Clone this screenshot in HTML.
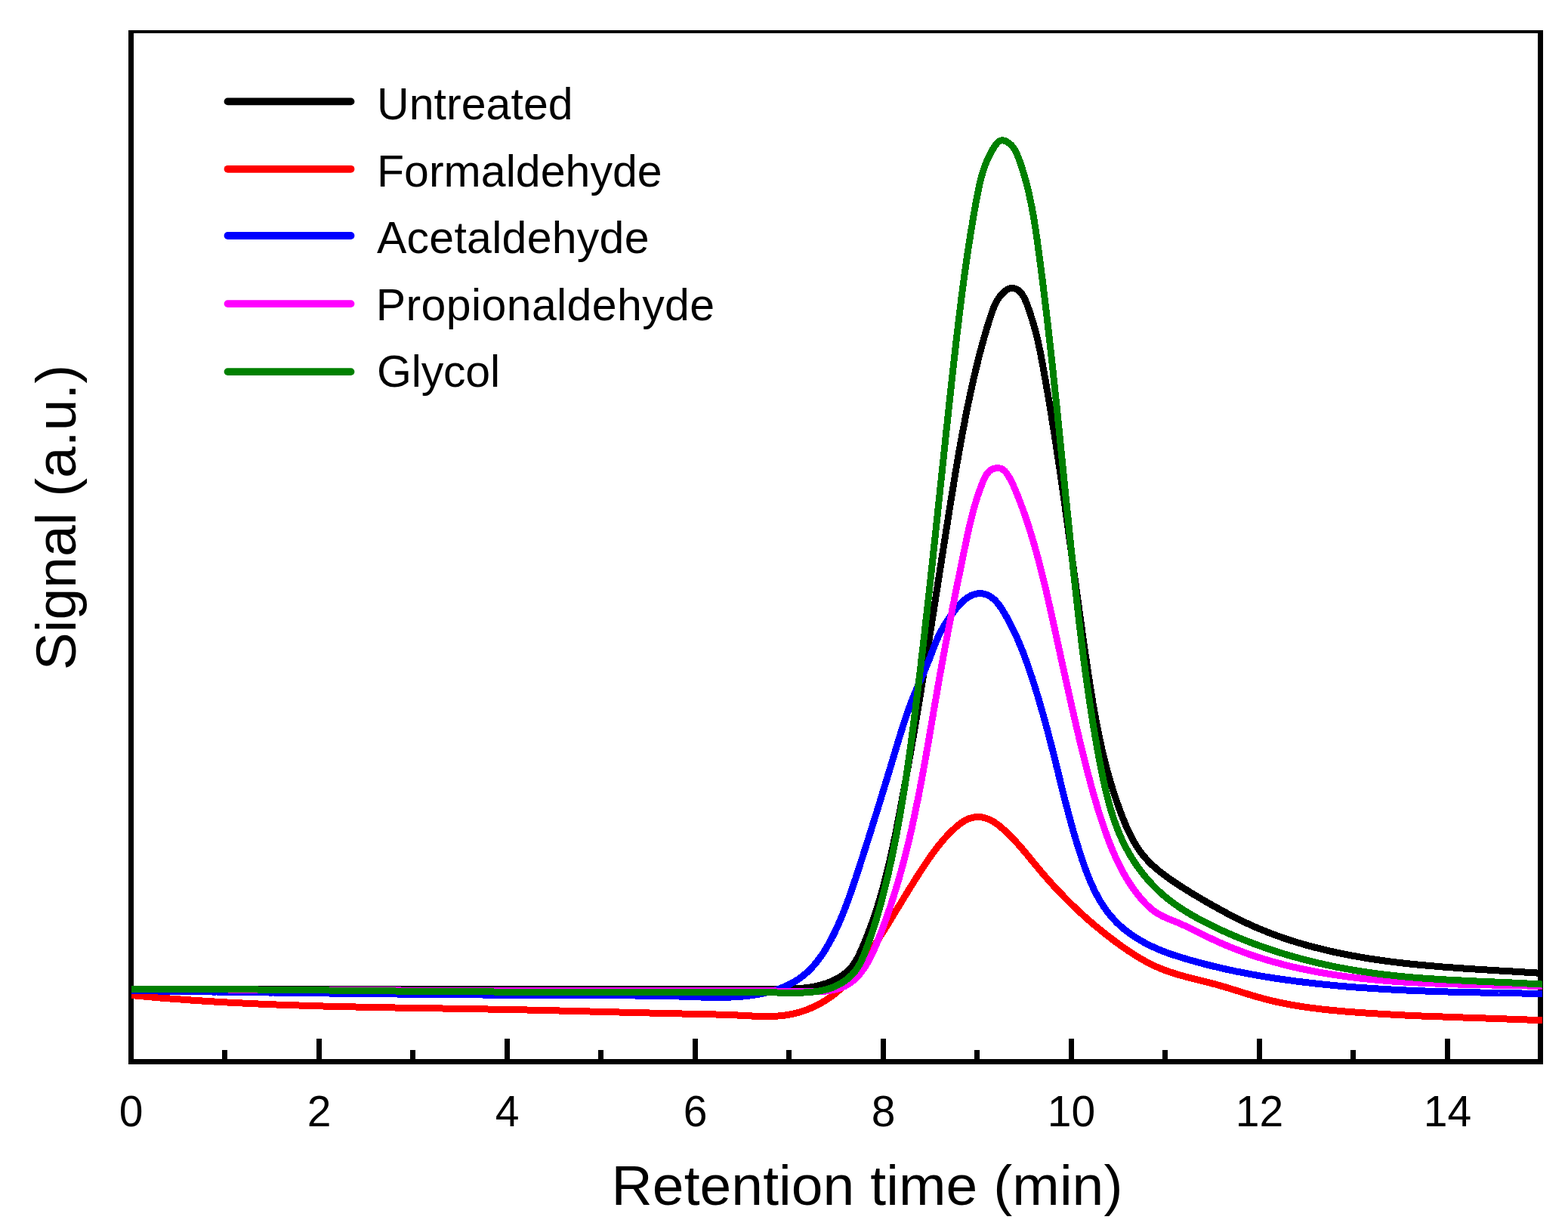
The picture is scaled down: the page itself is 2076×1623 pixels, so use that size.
<!DOCTYPE html>
<html><head><meta charset="utf-8"><title>Retention time chart</title>
<style>html,body{margin:0;padding:0;background:#fff;width:2076px;height:1623px;overflow:hidden;}svg{display:block;}</style>
</head><body>
<svg width="2076" height="1623" viewBox="0 0 2076 1623">
<rect width="2076" height="1623" fill="#fff"/>
<g fill="#000">
<rect x="170" y="40" width="7" height="1369"/>
<rect x="2036" y="40" width="7" height="1369"/>
<rect x="170" y="40" width="1873" height="4"/>
<rect x="170" y="1402" width="1873" height="7"/>
<rect x="294" y="1390" width="7" height="13"/>
<rect x="419" y="1375" width="7" height="28"/>
<rect x="543" y="1390" width="7" height="13"/>
<rect x="668" y="1375" width="7" height="28"/>
<rect x="792" y="1390" width="7" height="13"/>
<rect x="917" y="1375" width="7" height="28"/>
<rect x="1041" y="1390" width="7" height="13"/>
<rect x="1166" y="1375" width="7" height="28"/>
<rect x="1290" y="1390" width="7" height="13"/>
<rect x="1415" y="1375" width="7" height="28"/>
<rect x="1539" y="1390" width="7" height="13"/>
<rect x="1664" y="1375" width="7" height="28"/>
<rect x="1788" y="1390" width="7" height="13"/>
<rect x="1913" y="1375" width="7" height="28"/>
</g>
<g font-family='"Liberation Sans", Arial, sans-serif' font-size="57" text-anchor="middle" fill="#000">
<text x="173.5" y="1490.5">0</text>
<text x="422.5" y="1490.5">2</text>
<text x="671.5" y="1490.5">4</text>
<text x="920.5" y="1490.5">6</text>
<text x="1169.5" y="1490.5">8</text>
<text x="1418.5" y="1490.5">10</text>
<text x="1667.5" y="1490.5">12</text>
<text x="1916.5" y="1490.5">14</text>
</g>
<text x="809.6" y="1595" textLength="676.8" lengthAdjust="spacing" font-family='"Liberation Sans", Arial, sans-serif' font-size="75" fill="#000">Retention time (min)</text>
<text transform="translate(100,685) rotate(-90)" text-anchor="middle" font-family='"Liberation Sans", Arial, sans-serif' font-size="75" fill="#000">Signal (a.u.)</text>
<g fill="none" stroke-width="9" stroke-linejoin="round" stroke-linecap="butt" shape-rendering="crispEdges">
<path stroke="#000000" d="M174.0 1309.5L176.5 1309.5 179.0 1309.5 181.5 1309.5 184.0 1309.5 186.5 1309.5 189.0 1309.5 191.5 1309.5 194.0 1309.5 196.5 1309.5 199.0 1309.5 201.5 1309.5 204.0 1309.5 206.5 1309.5 209.0 1309.5 211.5 1309.5 214.0 1309.5 216.5 1309.5 219.0 1309.5 221.5 1309.5 224.0 1309.5 226.5 1309.5 229.0 1309.5 231.5 1309.5 234.0 1309.5 236.5 1309.5 239.0 1309.5 241.5 1309.5 243.9 1309.5 246.4 1309.5 248.9 1309.5 251.4 1309.5 253.9 1309.5 256.4 1309.5 258.9 1309.5 261.4 1309.5 263.9 1309.5 266.4 1309.5 268.9 1309.5 271.4 1309.5 273.9 1309.5 276.4 1309.5 278.9 1309.5 281.4 1309.5 283.9 1309.5 286.4 1309.5 288.9 1309.5 291.4 1309.5 293.9 1309.5 296.4 1309.5 298.9 1309.5 301.4 1309.5 303.9 1309.5 306.4 1309.5 308.9 1309.5 311.4 1309.5 313.9 1309.5 316.4 1309.5 318.9 1309.5 321.4 1309.5 323.9 1309.5 326.4 1309.5 328.9 1309.5 331.4 1309.5 333.9 1309.5 336.4 1309.5 338.9 1309.5 341.4 1309.5 343.9 1309.5 346.4 1309.5 348.9 1309.5 351.4 1309.5 353.9 1309.5 356.4 1309.5 358.9 1309.5 361.4 1309.5 363.9 1309.5 366.4 1309.5 368.9 1309.5 371.4 1309.5 373.9 1309.5 376.4 1309.5 378.9 1309.5 381.4 1309.5 383.9 1309.5 386.4 1309.5 388.8 1309.5 391.3 1309.5 393.8 1309.5 396.3 1309.5 398.8 1309.5 401.3 1309.5 403.8 1309.5 406.3 1309.5 408.8 1309.5 411.3 1309.5 413.8 1309.5 416.3 1309.5 418.8 1309.5 421.3 1309.5 423.8 1309.5 426.3 1309.5 428.8 1309.5 431.3 1309.5 433.8 1309.5 436.3 1309.5 438.8 1309.5 441.3 1309.5 443.8 1309.5 446.3 1309.5 448.8 1309.5 451.3 1309.5 453.8 1309.5 456.3 1309.5 458.8 1309.5 461.3 1309.5 463.8 1309.5 466.3 1309.5 468.8 1309.5 471.3 1309.5 473.8 1309.5 476.3 1309.5 478.8 1309.5 481.3 1309.5 483.8 1309.5 486.3 1309.5 488.8 1309.5 491.3 1309.5 493.8 1309.5 496.3 1309.5 498.8 1309.5 501.3 1309.5 503.8 1309.5 506.3 1309.5 508.8 1309.5 511.3 1309.5 513.8 1309.5 516.3 1309.5 518.8 1309.5 521.3 1309.5 523.8 1309.5 526.3 1309.5 528.8 1309.5 531.3 1309.5 533.8 1309.5 536.3 1309.5 538.8 1309.5 541.3 1309.5 543.8 1309.5 546.3 1309.5 548.8 1309.5 551.2 1309.5 553.7 1309.5 556.2 1309.5 558.7 1309.5 561.2 1309.5 563.7 1309.5 566.2 1309.5 568.7 1309.5 571.2 1309.5 573.7 1309.5 576.2 1309.5 578.7 1309.5 581.2 1309.5 583.7 1309.5 586.2 1309.5 588.7 1309.5 591.2 1309.5 593.7 1309.5 596.2 1309.5 598.7 1309.5 601.2 1309.5 603.7 1309.5 606.2 1309.5 608.7 1309.5 611.2 1309.5 613.7 1309.5 616.2 1309.5 618.7 1309.5 621.2 1309.5 623.7 1309.5 626.2 1309.5 628.7 1309.5 631.2 1309.5 633.7 1309.5 636.2 1309.5 638.7 1309.5 641.2 1309.5 643.7 1309.5 646.2 1309.5 648.7 1309.5 651.2 1309.5 653.7 1309.5 656.2 1309.5 658.7 1309.5 661.2 1309.5 663.7 1309.5 666.2 1309.5 668.7 1309.5 671.2 1309.5 673.7 1309.5 676.2 1309.5 678.7 1309.5 681.2 1309.5 683.7 1309.5 686.2 1309.5 688.7 1309.5 691.2 1309.5 693.7 1309.5 696.2 1309.5 698.7 1309.5 701.2 1309.5 703.6 1309.5 706.1 1309.5 708.6 1309.5 711.1 1309.5 713.6 1309.5 716.1 1309.5 718.6 1309.5 721.1 1309.5 723.6 1309.5 726.1 1309.5 728.6 1309.5 731.1 1309.5 733.6 1309.5 736.1 1309.5 738.6 1309.5 741.1 1309.5 743.6 1309.5 746.1 1309.5 748.6 1309.5 751.1 1309.5 753.6 1309.5 756.1 1309.5 758.6 1309.5 761.1 1309.5 763.6 1309.5 766.1 1309.5 768.6 1309.5 771.1 1309.5 773.6 1309.5 776.1 1309.5 778.6 1309.5 781.1 1309.5 783.6 1309.5 786.1 1309.5 788.6 1309.5 791.1 1309.5 793.6 1309.5 796.1 1309.5 798.6 1309.5 801.1 1309.5 803.6 1309.5 806.1 1309.5 808.6 1309.5 811.1 1309.5 813.6 1309.5 816.1 1309.5 818.6 1309.5 821.1 1309.5 823.6 1309.5 826.1 1309.5 828.6 1309.5 831.1 1309.5 833.6 1309.5 836.0 1309.5 838.5 1309.5 841.0 1309.5 843.5 1309.5 846.0 1309.5 848.5 1309.5 851.0 1309.5 853.5 1309.5 856.0 1309.5 858.5 1309.5 861.0 1309.5 863.5 1309.5 866.0 1309.5 868.5 1309.5 871.0 1309.5 873.5 1309.5 876.0 1309.5 878.5 1309.5 881.0 1309.5 883.5 1309.5 886.0 1309.5 888.5 1309.5 891.0 1309.5 893.5 1309.5 896.0 1309.5 898.5 1309.5 901.0 1309.5 903.5 1309.5 906.0 1309.5 908.5 1309.5 911.0 1309.5 913.5 1309.5 916.0 1309.5 918.5 1309.5 921.0 1309.5 923.5 1309.5 926.0 1309.5 928.5 1309.5 931.0 1309.5 933.5 1309.5 936.0 1309.5 938.5 1309.5 941.0 1309.5 943.5 1309.6 946.0 1309.6 948.4 1309.6 950.9 1309.6 953.4 1309.6 955.9 1309.6 958.4 1309.6 960.9 1309.6 963.4 1309.6 965.9 1309.6 968.4 1309.6 970.9 1309.6 973.4 1309.6 975.9 1309.6 978.4 1309.6 980.9 1309.5 983.4 1309.5 985.9 1309.5 988.4 1309.5 990.9 1309.5 993.4 1309.5 995.9 1309.5 998.4 1309.5 1000.9 1309.5 1003.4 1309.5 1005.9 1309.5 1008.4 1309.5 1010.9 1309.5 1013.5 1309.5 1016.0 1309.5 1018.5 1309.5 1021.0 1309.5 1023.5 1309.5 1026.0 1309.4 1028.5 1309.4 1031.0 1309.4 1033.5 1309.4 1036.0 1309.4 1038.5 1309.3 1041.0 1309.3 1043.5 1309.3 1046.0 1309.2 1048.5 1309.1 1051.0 1309.0 1053.5 1308.9 1056.0 1308.7 1058.4 1308.6 1060.9 1308.4 1063.4 1308.1 1065.9 1307.9 1068.3 1307.6 1070.8 1307.2 1073.2 1306.9 1075.6 1306.5 1078.1 1306.0 1080.5 1305.5 1082.9 1305.0 1085.3 1304.4 1087.7 1303.7 1090.1 1303.0 1092.5 1302.3 1094.8 1301.5 1097.2 1300.6 1099.5 1299.7 1101.8 1298.7 1104.1 1297.6 1106.4 1296.5 1108.6 1295.3 1110.8 1294.0 1112.9 1292.7 1115.0 1291.3 1117.1 1289.9 1119.1 1288.4 1121.0 1286.8 1122.8 1285.1 1124.6 1283.4 1126.3 1281.6 1127.9 1279.7 1129.4 1277.8 1130.8 1275.7 1132.1 1273.7 1133.4 1271.6 1134.6 1269.4 1135.8 1267.2 1136.9 1265.0 1138.0 1262.7 1139.0 1260.4 1140.0 1258.1 1141.1 1255.8 1142.1 1253.5 1143.0 1251.2 1144.0 1248.9 1145.0 1246.6 1145.9 1244.3 1146.9 1242.0 1147.8 1239.6 1148.7 1237.3 1149.6 1235.0 1150.5 1232.6 1151.4 1230.3 1152.2 1228.0 1153.1 1225.6 1153.9 1223.3 1154.8 1220.9 1155.6 1218.6 1156.4 1216.2 1157.2 1213.8 1158.0 1211.5 1158.8 1209.1 1159.6 1206.7 1160.3 1204.4 1161.1 1202.0 1161.9 1199.6 1162.6 1197.2 1163.3 1194.9 1164.0 1192.5 1164.8 1190.1 1165.5 1187.7 1166.2 1185.3 1166.8 1182.9 1167.5 1180.5 1168.2 1178.1 1168.9 1175.7 1169.5 1173.3 1170.2 1170.9 1170.8 1168.5 1171.4 1166.1 1172.1 1163.6 1172.7 1161.2 1173.3 1158.8 1173.9 1156.4 1174.5 1154.0 1175.1 1151.5 1175.7 1149.1 1176.3 1146.7 1176.9 1144.2 1177.4 1141.8 1178.0 1139.4 1178.6 1136.9 1179.1 1134.5 1179.7 1132.1 1180.2 1129.6 1180.7 1127.2 1181.3 1124.8 1181.8 1122.3 1182.3 1119.9 1182.8 1117.4 1183.4 1115.0 1183.9 1112.5 1184.4 1110.1 1184.9 1107.6 1185.4 1105.2 1185.9 1102.7 1186.4 1100.3 1186.9 1097.8 1187.4 1095.4 1187.8 1092.9 1188.3 1090.5 1188.8 1088.0 1189.3 1085.5 1189.7 1083.1 1190.2 1080.6 1190.7 1078.2 1191.2 1075.7 1191.6 1073.3 1192.1 1070.8 1192.6 1068.3 1193.0 1065.9 1193.5 1063.4 1193.9 1061.0 1194.4 1058.5 1194.8 1056.0 1195.3 1053.6 1195.8 1051.1 1196.2 1048.7 1196.7 1046.2 1197.1 1043.8 1197.6 1041.3 1198.0 1038.8 1198.4 1036.4 1198.9 1033.9 1199.3 1031.5 1199.8 1029.0 1200.2 1026.5 1200.7 1024.1 1201.1 1021.6 1201.5 1019.2 1202.0 1016.7 1202.4 1014.2 1202.8 1011.8 1203.3 1009.3 1203.7 1006.9 1204.1 1004.4 1204.6 1001.9 1205.0 999.5 1205.4 997.0 1205.9 994.5 1206.3 992.1 1206.7 989.6 1207.1 987.2 1207.6 984.7 1208.0 982.2 1208.4 979.8 1208.8 977.3 1209.3 974.9 1209.7 972.4 1210.1 969.9 1210.5 967.5 1210.9 965.0 1211.3 962.5 1211.8 960.1 1212.2 957.6 1212.6 955.2 1213.0 952.7 1213.4 950.2 1213.8 947.8 1214.2 945.3 1214.6 942.8 1215.1 940.4 1215.5 937.9 1215.9 935.5 1216.3 933.0 1216.7 930.5 1217.1 928.1 1217.5 925.6 1217.9 923.1 1218.3 920.7 1218.7 918.2 1219.1 915.8 1219.5 913.3 1219.9 910.8 1220.3 908.4 1220.7 905.9 1221.1 903.4 1221.5 901.0 1221.9 898.5 1222.3 896.0 1222.7 893.6 1223.1 891.1 1223.5 888.6 1223.9 886.2 1224.3 883.7 1224.7 881.3 1225.1 878.8 1225.5 876.3 1225.9 873.9 1226.3 871.4 1226.6 868.9 1227.0 866.5 1227.4 864.0 1227.8 861.5 1228.2 859.1 1228.6 856.6 1229.0 854.1 1229.4 851.7 1229.8 849.2 1230.2 846.7 1230.5 844.3 1230.9 841.8 1231.3 839.3 1231.7 836.9 1232.1 834.4 1232.5 831.9 1232.9 829.5 1233.3 827.0 1233.6 824.5 1234.0 822.1 1234.4 819.6 1234.8 817.1 1235.2 814.7 1235.6 812.2 1236.0 809.7 1236.3 807.3 1236.7 804.8 1237.1 802.3 1237.5 799.9 1237.9 797.4 1238.3 794.9 1238.7 792.5 1239.0 790.0 1239.4 787.5 1239.8 785.1 1240.2 782.6 1240.6 780.1 1241.0 777.7 1241.3 775.2 1241.7 772.7 1242.1 770.3 1242.5 767.8 1242.9 765.3 1243.3 762.9 1243.7 760.4 1244.0 757.9 1244.4 755.4 1244.8 753.0 1245.2 750.5 1245.6 748.0 1246.0 745.6 1246.3 743.1 1246.7 740.6 1247.1 738.2 1247.5 735.7 1247.9 733.2 1248.3 730.8 1248.7 728.3 1249.0 725.8 1249.4 723.4 1249.8 720.9 1250.2 718.4 1250.6 715.9 1251.0 713.5 1251.4 711.0 1251.8 708.5 1252.1 706.1 1252.5 703.6 1252.9 701.1 1253.3 698.7 1253.7 696.2 1254.1 693.7 1254.5 691.2 1254.9 688.8 1255.3 686.3 1255.7 683.8 1256.0 681.4 1256.4 678.9 1256.8 676.4 1257.2 674.0 1257.6 671.5 1258.0 669.0 1258.4 666.5 1258.8 664.1 1259.2 661.6 1259.6 659.1 1260.0 656.7 1260.4 654.2 1260.8 651.7 1261.2 649.2 1261.6 646.8 1262.0 644.3 1262.4 641.8 1262.8 639.4 1263.2 636.9 1263.6 634.4 1264.0 632.0 1264.4 629.5 1264.8 627.0 1265.3 624.6 1265.7 622.1 1266.1 619.6 1266.5 617.2 1266.9 614.7 1267.3 612.2 1267.8 609.8 1268.2 607.3 1268.6 604.8 1269.1 602.4 1269.5 599.9 1269.9 597.4 1270.4 595.0 1270.8 592.5 1271.2 590.1 1271.7 587.6 1272.1 585.1 1272.6 582.7 1273.0 580.2 1273.5 577.8 1273.9 575.3 1274.4 572.8 1274.8 570.4 1275.3 567.9 1275.8 565.5 1276.2 563.0 1276.7 560.6 1277.2 558.1 1277.6 555.7 1278.1 553.2 1278.6 550.8 1279.1 548.3 1279.6 545.9 1280.1 543.4 1280.6 541.0 1281.1 538.5 1281.6 536.1 1282.1 533.6 1282.6 531.2 1283.1 528.8 1283.6 526.3 1284.1 523.9 1284.7 521.4 1285.2 519.0 1285.7 516.6 1286.2 514.1 1286.8 511.7 1287.3 509.3 1287.9 506.8 1288.4 504.4 1289.0 502.0 1289.5 499.6 1290.1 497.1 1290.7 494.7 1291.2 492.3 1291.8 489.9 1292.4 487.4 1293.0 485.0 1293.6 482.6 1294.2 480.2 1294.8 477.8 1295.4 475.4 1296.0 473.0 1296.6 470.5 1297.2 468.1 1297.8 465.7 1298.5 463.3 1299.1 460.9 1299.8 458.5 1300.4 456.1 1301.1 453.7 1301.7 451.3 1302.4 448.9 1303.1 446.5 1303.8 444.1 1304.5 441.7 1305.2 439.3 1305.9 436.9 1306.6 434.5 1307.3 432.1 1308.1 429.7 1308.8 427.2 1309.6 424.8 1310.3 422.4 1311.1 420.0 1311.9 417.6 1312.7 415.2 1313.6 412.8 1314.4 410.4 1315.3 408.1 1316.3 405.7 1317.3 403.4 1318.4 401.2 1319.6 399.0 1320.8 396.8 1322.2 394.7 1323.6 392.7 1325.2 390.7 1326.9 388.8 1328.7 387.1 1330.6 385.4 1332.7 383.9 1334.8 382.7 1337.0 381.9 1339.3 381.4 1341.6 381.5 1343.8 382.0 1345.9 382.9 1347.9 384.1 1349.7 385.5 1351.4 387.2 1352.9 389.1 1354.3 391.2 1355.6 393.5 1356.8 395.8 1357.9 398.3 1358.9 400.8 1359.9 403.3 1360.8 405.9 1361.7 408.4 1362.6 410.9 1363.4 413.4 1364.2 415.8 1365.0 418.2 1365.7 420.6 1366.5 422.9 1367.2 425.3 1367.9 427.6 1368.6 429.9 1369.3 432.2 1369.9 434.5 1370.6 436.8 1371.2 439.1 1371.8 441.4 1372.4 443.8 1372.9 446.1 1373.5 448.5 1374.0 450.9 1374.6 453.3 1375.1 455.7 1375.6 458.1 1376.1 460.6 1376.6 463.0 1377.1 465.4 1377.6 467.9 1378.1 470.3 1378.6 472.8 1379.0 475.3 1379.5 477.7 1379.9 480.2 1380.4 482.7 1380.9 485.2 1381.3 487.6 1381.8 490.1 1382.2 492.6 1382.6 495.0 1383.1 497.5 1383.5 500.0 1384.0 502.4 1384.4 504.9 1384.8 507.4 1385.3 509.9 1385.7 512.3 1386.1 514.8 1386.6 517.3 1387.0 519.7 1387.4 522.2 1387.8 524.7 1388.2 527.2 1388.7 529.6 1389.1 532.1 1389.5 534.6 1389.9 537.0 1390.3 539.5 1390.7 542.0 1391.1 544.5 1391.5 546.9 1391.9 549.4 1392.3 551.9 1392.7 554.3 1393.1 556.8 1393.5 559.3 1393.9 561.8 1394.3 564.2 1394.7 566.7 1395.1 569.2 1395.5 571.6 1395.9 574.1 1396.3 576.6 1396.6 579.1 1397.0 581.5 1397.4 584.0 1397.8 586.5 1398.2 588.9 1398.5 591.4 1398.9 593.9 1399.3 596.3 1399.7 598.8 1400.0 601.3 1400.4 603.8 1400.8 606.2 1401.2 608.7 1401.5 611.2 1401.9 613.6 1402.3 616.1 1402.6 618.6 1403.0 621.1 1403.3 623.5 1403.7 626.0 1404.1 628.5 1404.4 630.9 1404.8 633.4 1405.1 635.9 1405.5 638.4 1405.9 640.8 1406.2 643.3 1406.6 645.8 1406.9 648.2 1407.3 650.7 1407.6 653.2 1408.0 655.7 1408.3 658.1 1408.7 660.6 1409.0 663.1 1409.4 665.5 1409.7 668.0 1410.1 670.5 1410.4 673.0 1410.7 675.4 1411.1 677.9 1411.4 680.4 1411.8 682.8 1412.1 685.3 1412.5 687.8 1412.8 690.3 1413.1 692.7 1413.5 695.2 1413.8 697.7 1414.2 700.1 1414.5 702.6 1414.8 705.1 1415.2 707.6 1415.5 710.0 1415.8 712.5 1416.2 715.0 1416.5 717.4 1416.9 719.9 1417.2 722.4 1417.5 724.9 1417.9 727.3 1418.2 729.8 1418.5 732.3 1418.9 734.8 1419.2 737.2 1419.5 739.7 1419.9 742.2 1420.2 744.6 1420.6 747.1 1420.9 749.6 1421.2 752.1 1421.6 754.5 1421.9 757.0 1422.2 759.5 1422.6 761.9 1422.9 764.4 1423.2 766.9 1423.6 769.4 1423.9 771.8 1424.2 774.3 1424.6 776.8 1424.9 779.3 1425.3 781.7 1425.6 784.2 1425.9 786.7 1426.3 789.2 1426.6 791.6 1426.9 794.1 1427.3 796.6 1427.6 799.0 1428.0 801.5 1428.3 804.0 1428.6 806.5 1429.0 808.9 1429.3 811.4 1429.7 813.9 1430.0 816.4 1430.3 818.8 1430.7 821.3 1431.0 823.8 1431.4 826.3 1431.7 828.7 1432.1 831.2 1432.4 833.7 1432.8 836.2 1433.1 838.6 1433.5 841.1 1433.8 843.6 1434.2 846.1 1434.5 848.5 1434.9 851.0 1435.2 853.5 1435.6 856.0 1435.9 858.4 1436.3 860.9 1436.6 863.4 1437.0 865.9 1437.4 868.3 1437.7 870.8 1438.1 873.3 1438.4 875.8 1438.8 878.2 1439.2 880.7 1439.5 883.2 1439.9 885.7 1440.3 888.1 1440.6 890.6 1441.0 893.1 1441.4 895.6 1441.8 898.0 1442.1 900.5 1442.5 903.0 1442.9 905.5 1443.3 907.9 1443.7 910.4 1444.1 912.9 1444.5 915.3 1444.9 917.8 1445.3 920.3 1445.7 922.8 1446.1 925.2 1446.5 927.7 1446.9 930.2 1447.3 932.6 1447.7 935.1 1448.2 937.6 1448.6 940.0 1449.0 942.5 1449.5 944.9 1449.9 947.4 1450.4 949.9 1450.8 952.3 1451.3 954.8 1451.8 957.2 1452.2 959.7 1452.7 962.1 1453.2 964.6 1453.7 967.0 1454.2 969.5 1454.7 971.9 1455.2 974.4 1455.7 976.8 1456.2 979.3 1456.7 981.7 1457.3 984.2 1457.8 986.6 1458.3 989.0 1458.9 991.5 1459.4 993.9 1460.0 996.3 1460.6 998.8 1461.2 1001.2 1461.8 1003.6 1462.3 1006.0 1463.0 1008.4 1463.6 1010.9 1464.2 1013.3 1464.8 1015.7 1465.5 1018.1 1466.1 1020.5 1466.8 1022.9 1467.4 1025.3 1468.1 1027.7 1468.8 1030.1 1469.5 1032.5 1470.2 1034.9 1470.9 1037.3 1471.6 1039.7 1472.3 1042.1 1473.1 1044.5 1473.8 1046.8 1474.6 1049.2 1475.3 1051.6 1476.1 1054.0 1476.9 1056.3 1477.7 1058.7 1478.5 1061.1 1479.3 1063.4 1480.2 1065.8 1481.0 1068.1 1481.9 1070.5 1482.7 1072.8 1483.6 1075.2 1484.5 1077.5 1485.4 1079.9 1486.3 1082.2 1487.2 1084.5 1488.2 1086.8 1489.1 1089.2 1490.1 1091.5 1491.1 1093.8 1492.1 1096.1 1493.1 1098.3 1494.2 1100.6 1495.3 1102.9 1496.4 1105.1 1497.5 1107.3 1498.6 1109.5 1499.8 1111.7 1501.0 1113.9 1502.3 1116.0 1503.5 1118.1 1504.8 1120.2 1506.2 1122.3 1507.6 1124.4 1509.0 1126.4 1510.4 1128.4 1511.9 1130.3 1513.5 1132.3 1515.0 1134.2 1516.7 1136.1 1518.3 1137.9 1520.0 1139.7 1521.8 1141.5 1523.5 1143.2 1525.3 1145.0 1527.2 1146.6 1529.1 1148.3 1531.0 1150.0 1532.9 1151.6 1534.8 1153.2 1536.8 1154.7 1538.8 1156.3 1540.8 1157.8 1542.8 1159.3 1544.9 1160.8 1546.9 1162.3 1549.0 1163.8 1551.1 1165.2 1553.2 1166.6 1555.3 1168.0 1557.4 1169.4 1559.5 1170.8 1561.6 1172.2 1563.7 1173.6 1565.8 1174.9 1567.9 1176.2 1570.0 1177.6 1572.1 1178.9 1574.2 1180.2 1576.3 1181.5 1578.4 1182.8 1580.5 1184.1 1582.6 1185.4 1584.8 1186.6 1586.9 1187.9 1589.0 1189.1 1591.2 1190.4 1593.3 1191.6 1595.4 1192.9 1597.6 1194.1 1599.7 1195.3 1601.9 1196.6 1604.0 1197.8 1606.2 1199.0 1608.4 1200.2 1610.5 1201.4 1612.7 1202.6 1614.9 1203.8 1617.1 1205.0 1619.3 1206.2 1621.5 1207.4 1623.7 1208.6 1625.9 1209.8 1628.2 1210.9 1630.4 1212.1 1632.6 1213.3 1634.9 1214.4 1637.1 1215.5 1639.4 1216.7 1641.6 1217.8 1643.9 1218.9 1646.1 1220.0 1648.4 1221.1 1650.7 1222.1 1652.9 1223.2 1655.2 1224.2 1657.5 1225.3 1659.8 1226.3 1662.1 1227.3 1664.4 1228.3 1666.6 1229.2 1669.0 1230.2 1671.3 1231.2 1673.6 1232.1 1675.9 1233.0 1678.2 1234.0 1680.5 1234.9 1682.8 1235.8 1685.2 1236.6 1687.5 1237.5 1689.8 1238.4 1692.2 1239.2 1694.5 1240.0 1696.9 1240.9 1699.2 1241.7 1701.6 1242.5 1703.9 1243.3 1706.3 1244.1 1708.6 1244.8 1711.0 1245.6 1713.4 1246.3 1715.7 1247.1 1718.1 1247.8 1720.5 1248.5 1722.9 1249.2 1725.3 1249.9 1727.7 1250.6 1730.0 1251.3 1732.4 1251.9 1734.8 1252.6 1737.2 1253.2 1739.6 1253.9 1742.0 1254.5 1744.5 1255.1 1746.9 1255.7 1749.3 1256.3 1751.7 1256.9 1754.1 1257.5 1756.5 1258.1 1759.0 1258.6 1761.4 1259.2 1763.8 1259.7 1766.2 1260.3 1768.7 1260.8 1771.1 1261.3 1773.5 1261.8 1776.0 1262.3 1778.4 1262.8 1780.9 1263.3 1783.3 1263.8 1785.8 1264.3 1788.2 1264.7 1790.7 1265.2 1793.1 1265.6 1795.6 1266.1 1798.0 1266.5 1800.5 1266.9 1803.0 1267.4 1805.4 1267.8 1807.9 1268.2 1810.3 1268.6 1812.8 1269.0 1815.3 1269.4 1817.8 1269.7 1820.2 1270.1 1822.7 1270.5 1825.2 1270.8 1827.7 1271.2 1830.1 1271.5 1832.6 1271.9 1835.1 1272.2 1837.6 1272.5 1840.1 1272.9 1842.6 1273.2 1845.0 1273.5 1847.5 1273.8 1850.0 1274.1 1852.5 1274.4 1855.0 1274.7 1857.5 1275.0 1860.0 1275.3 1862.5 1275.5 1865.0 1275.8 1867.5 1276.1 1870.0 1276.3 1872.5 1276.6 1875.0 1276.8 1877.5 1277.1 1880.0 1277.3 1882.5 1277.6 1885.0 1277.8 1887.5 1278.0 1890.0 1278.3 1892.5 1278.5 1895.0 1278.7 1897.5 1278.9 1900.0 1279.1 1902.5 1279.4 1905.0 1279.6 1907.5 1279.8 1910.0 1280.0 1912.5 1280.2 1915.0 1280.4 1917.5 1280.5 1920.0 1280.7 1922.5 1280.9 1925.0 1281.1 1927.5 1281.3 1930.0 1281.5 1932.5 1281.6 1935.0 1281.8 1937.5 1282.0 1940.0 1282.2 1942.5 1282.3 1945.0 1282.5 1947.5 1282.6 1950.0 1282.8 1952.5 1283.0 1955.0 1283.1 1957.5 1283.3 1960.0 1283.4 1962.5 1283.6 1965.0 1283.8 1967.5 1283.9 1970.0 1284.1 1972.5 1284.2 1975.0 1284.4 1977.5 1284.5 1980.0 1284.7 1982.5 1284.8 1985.0 1285.0 1987.5 1285.1 1990.0 1285.3 1992.4 1285.4 1994.9 1285.6 1997.4 1285.7 1999.9 1285.9 2002.4 1286.0 2004.9 1286.2 2007.4 1286.3 2009.8 1286.5 2012.3 1286.6 2014.8 1286.8 2017.3 1286.9 2019.7 1287.1 2022.2 1287.2 2024.7 1287.4 2027.1 1287.6 2029.6 1287.7 2032.1 1287.9 2034.5 1288.0 2037.0 1288.2 2039.5 1288.4 2041.9 1288.5"/>
<path stroke="#ff0000" d="M174.0 1317.5L176.5 1317.8 178.9 1318.0 181.4 1318.2 183.9 1318.5 186.4 1318.7 188.9 1318.9 191.4 1319.2 193.9 1319.4 196.4 1319.6 198.8 1319.8 201.3 1320.0 203.8 1320.3 206.3 1320.5 208.8 1320.7 211.3 1320.9 213.8 1321.1 216.3 1321.3 218.8 1321.5 221.2 1321.7 223.7 1321.9 226.2 1322.1 228.7 1322.3 231.2 1322.5 233.7 1322.7 236.2 1322.9 238.7 1323.0 241.2 1323.2 243.6 1323.4 246.1 1323.6 248.6 1323.8 251.1 1323.9 253.6 1324.1 256.1 1324.3 258.6 1324.4 261.1 1324.6 263.6 1324.8 266.1 1324.9 268.6 1325.1 271.0 1325.2 273.5 1325.4 276.0 1325.6 278.5 1325.7 281.0 1325.9 283.5 1326.0 286.0 1326.2 288.5 1326.3 291.0 1326.4 293.5 1326.6 296.0 1326.7 298.5 1326.9 301.0 1327.0 303.4 1327.1 305.9 1327.3 308.4 1327.4 310.9 1327.5 313.4 1327.7 315.9 1327.8 318.4 1327.9 320.9 1328.0 323.4 1328.1 325.9 1328.3 328.4 1328.4 330.9 1328.5 333.4 1328.6 335.9 1328.7 338.4 1328.8 340.8 1328.9 343.3 1329.1 345.8 1329.2 348.3 1329.3 350.8 1329.4 353.3 1329.5 355.8 1329.6 358.3 1329.7 360.8 1329.8 363.3 1329.9 365.8 1330.0 368.3 1330.1 370.8 1330.2 373.3 1330.3 375.8 1330.3 378.3 1330.4 380.8 1330.5 383.3 1330.6 385.8 1330.7 388.3 1330.8 390.7 1330.9 393.2 1330.9 395.7 1331.0 398.2 1331.1 400.7 1331.2 403.2 1331.3 405.7 1331.3 408.2 1331.4 410.7 1331.5 413.2 1331.6 415.7 1331.6 418.2 1331.7 420.7 1331.8 423.2 1331.8 425.7 1331.9 428.2 1332.0 430.7 1332.0 433.2 1332.1 435.7 1332.2 438.2 1332.2 440.7 1332.3 443.2 1332.4 445.7 1332.4 448.2 1332.5 450.7 1332.5 453.2 1332.6 455.7 1332.7 458.2 1332.7 460.7 1332.8 463.2 1332.8 465.6 1332.9 468.1 1332.9 470.6 1333.0 473.1 1333.0 475.6 1333.1 478.1 1333.1 480.6 1333.2 483.1 1333.2 485.6 1333.3 488.1 1333.3 490.6 1333.4 493.1 1333.4 495.6 1333.5 498.1 1333.5 500.6 1333.6 503.1 1333.6 505.6 1333.7 508.1 1333.7 510.6 1333.8 513.1 1333.8 515.6 1333.9 518.1 1333.9 520.6 1333.9 523.1 1334.0 525.6 1334.0 528.1 1334.1 530.6 1334.1 533.1 1334.2 535.6 1334.2 538.1 1334.2 540.6 1334.3 543.1 1334.3 545.6 1334.4 548.1 1334.4 550.6 1334.4 553.1 1334.5 555.6 1334.5 558.1 1334.6 560.6 1334.6 563.1 1334.6 565.6 1334.7 568.1 1334.7 570.6 1334.7 573.1 1334.8 575.6 1334.8 578.1 1334.9 580.6 1334.9 583.1 1334.9 585.6 1335.0 588.1 1335.0 590.6 1335.1 593.0 1335.1 595.5 1335.1 598.0 1335.2 600.5 1335.2 603.0 1335.2 605.5 1335.3 608.0 1335.3 610.5 1335.4 613.0 1335.4 615.5 1335.4 618.0 1335.5 620.5 1335.5 623.0 1335.6 625.5 1335.6 628.0 1335.7 630.5 1335.7 633.0 1335.7 635.5 1335.8 638.0 1335.8 640.5 1335.9 643.0 1335.9 645.5 1336.0 648.0 1336.0 650.5 1336.0 653.0 1336.1 655.5 1336.1 658.0 1336.2 660.5 1336.2 663.0 1336.3 665.5 1336.3 668.0 1336.4 670.5 1336.4 673.0 1336.5 675.5 1336.5 678.0 1336.6 680.5 1336.6 683.0 1336.7 685.5 1336.7 688.0 1336.8 690.5 1336.8 693.0 1336.9 695.5 1336.9 698.0 1337.0 700.5 1337.0 703.0 1337.1 705.5 1337.2 708.0 1337.2 710.5 1337.3 713.0 1337.3 715.4 1337.4 717.9 1337.4 720.4 1337.5 722.9 1337.6 725.4 1337.6 727.9 1337.7 730.4 1337.7 732.9 1337.8 735.4 1337.9 737.9 1337.9 740.4 1338.0 742.9 1338.0 745.4 1338.1 747.9 1338.2 750.4 1338.2 752.9 1338.3 755.4 1338.4 757.9 1338.4 760.4 1338.5 762.9 1338.5 765.4 1338.6 767.9 1338.7 770.4 1338.7 772.9 1338.8 775.4 1338.9 777.9 1338.9 780.4 1339.0 782.9 1339.1 785.4 1339.1 787.9 1339.2 790.4 1339.2 792.8 1339.3 795.3 1339.4 797.8 1339.4 800.3 1339.5 802.8 1339.6 805.3 1339.6 807.8 1339.7 810.3 1339.8 812.8 1339.8 815.3 1339.9 817.8 1339.9 820.3 1340.0 822.8 1340.1 825.3 1340.1 827.8 1340.2 830.3 1340.3 832.8 1340.3 835.3 1340.4 837.8 1340.5 840.3 1340.5 842.8 1340.6 845.3 1340.6 847.8 1340.7 850.3 1340.8 852.8 1340.8 855.2 1340.9 857.7 1340.9 860.2 1341.0 862.7 1341.1 865.2 1341.1 867.7 1341.2 870.2 1341.2 872.7 1341.3 875.2 1341.4 877.7 1341.4 880.2 1341.5 882.7 1341.5 885.2 1341.6 887.7 1341.7 890.2 1341.7 892.7 1341.8 895.2 1341.8 897.7 1341.9 900.2 1341.9 902.7 1342.0 905.2 1342.0 907.7 1342.1 910.1 1342.1 912.6 1342.2 915.1 1342.2 917.6 1342.3 920.1 1342.3 922.6 1342.4 925.1 1342.4 927.6 1342.5 930.1 1342.5 932.6 1342.6 935.1 1342.7 937.6 1342.7 940.1 1342.8 942.6 1342.8 945.1 1342.9 947.6 1343.0 950.1 1343.0 952.6 1343.1 955.1 1343.2 957.6 1343.3 960.1 1343.3 962.6 1343.4 965.1 1343.5 967.6 1343.6 970.1 1343.7 972.6 1343.8 975.1 1343.9 977.6 1344.1 980.1 1344.2 982.6 1344.3 985.2 1344.4 987.7 1344.6 990.2 1344.7 992.7 1344.8 995.2 1345.0 997.7 1345.1 1000.2 1345.2 1002.7 1345.3 1005.2 1345.4 1007.7 1345.5 1010.2 1345.5 1012.7 1345.5 1015.2 1345.6 1017.7 1345.5 1020.2 1345.5 1022.7 1345.4 1025.2 1345.3 1027.6 1345.2 1030.1 1345.0 1032.6 1344.8 1035.0 1344.6 1037.5 1344.3 1039.9 1344.0 1042.3 1343.6 1044.8 1343.2 1047.2 1342.7 1049.6 1342.2 1052.0 1341.7 1054.4 1341.1 1056.8 1340.5 1059.1 1339.8 1061.5 1339.0 1063.8 1338.3 1066.2 1337.4 1068.5 1336.6 1070.8 1335.7 1073.1 1334.7 1075.4 1333.7 1077.7 1332.7 1079.9 1331.6 1082.2 1330.5 1084.4 1329.3 1086.6 1328.1 1088.8 1326.9 1090.9 1325.6 1093.1 1324.3 1095.2 1322.9 1097.3 1321.5 1099.4 1320.0 1101.4 1318.6 1103.4 1317.0 1105.4 1315.5 1107.4 1313.9 1109.3 1312.3 1111.2 1310.7 1113.0 1309.0 1114.9 1307.3 1116.7 1305.6 1118.4 1303.8 1120.2 1302.0 1121.9 1300.2 1123.5 1298.4 1125.2 1296.6 1126.8 1294.7 1128.4 1292.8 1130.0 1290.9 1131.6 1288.9 1133.1 1287.0 1134.7 1285.0 1136.2 1283.1 1137.7 1281.1 1139.1 1279.1 1140.6 1277.0 1142.0 1275.0 1143.5 1273.0 1144.9 1270.9 1146.3 1268.9 1147.7 1266.8 1149.1 1264.7 1150.5 1262.7 1151.9 1260.6 1153.3 1258.5 1154.6 1256.4 1156.0 1254.3 1157.4 1252.2 1158.7 1250.1 1160.1 1248.0 1161.4 1245.9 1162.8 1243.8 1164.1 1241.7 1165.4 1239.6 1166.7 1237.5 1168.1 1235.4 1169.4 1233.3 1170.7 1231.2 1172.0 1229.0 1173.3 1226.9 1174.7 1224.8 1176.0 1222.7 1177.3 1220.5 1178.6 1218.4 1179.9 1216.3 1181.2 1214.2 1182.5 1212.0 1183.8 1209.9 1185.1 1207.8 1186.4 1205.6 1187.7 1203.5 1189.0 1201.4 1190.3 1199.2 1191.6 1197.1 1192.9 1195.0 1194.2 1192.8 1195.5 1190.7 1196.8 1188.6 1198.1 1186.4 1199.4 1184.3 1200.7 1182.2 1202.0 1180.1 1203.3 1177.9 1204.6 1175.8 1205.9 1173.7 1207.2 1171.6 1208.6 1169.5 1209.9 1167.3 1211.2 1165.2 1212.5 1163.1 1213.9 1161.0 1215.2 1158.9 1216.6 1156.8 1217.9 1154.7 1219.3 1152.6 1220.6 1150.5 1222.0 1148.4 1223.4 1146.4 1224.8 1144.3 1226.2 1142.2 1227.5 1140.1 1229.0 1138.1 1230.4 1136.0 1231.8 1134.0 1233.2 1131.9 1234.7 1129.9 1236.2 1127.9 1237.7 1125.9 1239.2 1123.9 1240.7 1121.9 1242.2 1120.0 1243.8 1118.0 1245.4 1116.1 1247.0 1114.2 1248.6 1112.3 1250.2 1110.4 1251.9 1108.6 1253.6 1106.7 1255.3 1104.9 1257.1 1103.1 1258.8 1101.4 1260.6 1099.6 1262.5 1097.9 1264.3 1096.2 1266.2 1094.5 1268.2 1092.9 1270.1 1091.3 1272.1 1089.8 1274.2 1088.3 1276.3 1087.0 1278.5 1085.8 1280.7 1084.7 1283.0 1083.7 1285.3 1083.0 1287.7 1082.3 1290.1 1081.9 1292.6 1081.6 1295.0 1081.5 1297.4 1081.6 1299.8 1081.9 1302.3 1082.4 1304.6 1083.0 1307.0 1083.8 1309.3 1084.7 1311.6 1085.8 1313.8 1086.9 1316.0 1088.2 1318.1 1089.6 1320.2 1091.1 1322.2 1092.6 1324.1 1094.2 1326.1 1095.8 1328.0 1097.5 1329.9 1099.2 1331.7 1100.8 1333.5 1102.6 1335.3 1104.3 1337.1 1106.1 1338.9 1107.8 1340.6 1109.6 1342.4 1111.4 1344.1 1113.3 1345.7 1115.1 1347.4 1116.9 1349.1 1118.8 1350.7 1120.7 1352.4 1122.6 1354.0 1124.5 1355.6 1126.4 1357.2 1128.3 1358.8 1130.2 1360.4 1132.1 1362.0 1134.0 1363.6 1136.0 1365.1 1137.9 1366.7 1139.8 1368.3 1141.7 1369.9 1143.7 1371.5 1145.6 1373.1 1147.5 1374.7 1149.4 1376.3 1151.4 1377.9 1153.3 1379.5 1155.2 1381.1 1157.1 1382.8 1159.0 1384.4 1160.8 1386.1 1162.7 1387.7 1164.6 1389.4 1166.5 1391.0 1168.3 1392.7 1170.2 1394.4 1172.0 1396.1 1173.9 1397.8 1175.7 1399.5 1177.5 1401.2 1179.3 1402.9 1181.1 1404.7 1183.0 1406.4 1184.7 1408.1 1186.5 1409.9 1188.3 1411.6 1190.1 1413.4 1191.9 1415.2 1193.6 1416.9 1195.4 1418.7 1197.1 1420.5 1198.9 1422.3 1200.6 1424.1 1202.3 1425.9 1204.0 1427.7 1205.7 1429.6 1207.4 1431.4 1209.1 1433.2 1210.8 1435.1 1212.5 1436.9 1214.1 1438.8 1215.8 1440.7 1217.4 1442.5 1219.1 1444.4 1220.7 1446.3 1222.3 1448.2 1223.9 1450.1 1225.6 1452.0 1227.2 1454.0 1228.7 1455.9 1230.3 1457.8 1231.9 1459.8 1233.5 1461.7 1235.0 1463.7 1236.6 1465.6 1238.1 1467.6 1239.6 1469.6 1241.2 1471.6 1242.7 1473.6 1244.2 1475.6 1245.7 1477.6 1247.2 1479.6 1248.7 1481.6 1250.1 1483.7 1251.6 1485.7 1253.1 1487.8 1254.5 1489.8 1255.9 1491.9 1257.4 1494.0 1258.8 1496.1 1260.2 1498.2 1261.5 1500.3 1262.9 1502.4 1264.2 1504.5 1265.6 1506.6 1266.9 1508.8 1268.2 1510.9 1269.4 1513.1 1270.7 1515.3 1271.9 1517.5 1273.1 1519.7 1274.2 1521.9 1275.4 1524.1 1276.5 1526.3 1277.6 1528.6 1278.7 1530.8 1279.7 1533.1 1280.7 1535.4 1281.7 1537.7 1282.6 1540.0 1283.5 1542.3 1284.4 1544.6 1285.2 1546.9 1286.1 1549.3 1286.9 1551.6 1287.6 1554.0 1288.4 1556.4 1289.1 1558.7 1289.9 1561.1 1290.6 1563.5 1291.3 1565.9 1291.9 1568.3 1292.6 1570.7 1293.2 1573.1 1293.9 1575.5 1294.5 1577.9 1295.1 1580.4 1295.7 1582.8 1296.3 1585.2 1297.0 1587.6 1297.6 1590.1 1298.2 1592.5 1298.8 1594.9 1299.4 1597.3 1300.0 1599.8 1300.6 1602.2 1301.2 1604.6 1301.9 1607.0 1302.5 1609.5 1303.1 1611.9 1303.8 1614.3 1304.5 1616.7 1305.2 1619.1 1305.9 1621.5 1306.6 1623.9 1307.3 1626.3 1308.0 1628.7 1308.7 1631.1 1309.5 1633.4 1310.2 1635.8 1310.9 1638.2 1311.7 1640.6 1312.4 1643.0 1313.2 1645.4 1313.9 1647.8 1314.7 1650.2 1315.4 1652.5 1316.1 1654.9 1316.9 1657.3 1317.6 1659.7 1318.3 1662.1 1319.0 1664.5 1319.7 1666.9 1320.4 1669.3 1321.0 1671.7 1321.7 1674.1 1322.4 1676.5 1323.0 1678.9 1323.6 1681.3 1324.2 1683.8 1324.8 1686.2 1325.4 1688.6 1325.9 1691.0 1326.5 1693.5 1327.0 1695.9 1327.5 1698.3 1328.0 1700.8 1328.5 1703.2 1329.0 1705.7 1329.5 1708.1 1329.9 1710.6 1330.4 1713.0 1330.8 1715.5 1331.2 1718.0 1331.6 1720.4 1332.0 1722.9 1332.4 1725.3 1332.8 1727.8 1333.1 1730.3 1333.5 1732.8 1333.8 1735.2 1334.2 1737.7 1334.5 1740.2 1334.8 1742.7 1335.1 1745.1 1335.4 1747.6 1335.7 1750.1 1336.0 1752.6 1336.3 1755.1 1336.6 1757.6 1336.8 1760.1 1337.1 1762.6 1337.3 1765.0 1337.6 1767.5 1337.8 1770.0 1338.0 1772.5 1338.3 1775.0 1338.5 1777.5 1338.7 1780.0 1338.9 1782.5 1339.1 1785.0 1339.3 1787.5 1339.5 1790.0 1339.7 1792.5 1339.9 1795.0 1340.1 1797.5 1340.3 1800.0 1340.4 1802.5 1340.6 1805.0 1340.8 1807.5 1341.0 1810.0 1341.1 1812.4 1341.3 1814.9 1341.5 1817.4 1341.6 1819.9 1341.8 1822.4 1341.9 1824.9 1342.1 1827.4 1342.2 1829.9 1342.4 1832.4 1342.5 1834.9 1342.7 1837.4 1342.8 1839.9 1342.9 1842.4 1343.1 1844.9 1343.2 1847.4 1343.3 1849.9 1343.5 1852.4 1343.6 1854.8 1343.7 1857.3 1343.8 1859.8 1344.0 1862.3 1344.1 1864.8 1344.2 1867.3 1344.3 1869.8 1344.4 1872.3 1344.5 1874.8 1344.6 1877.3 1344.7 1879.8 1344.9 1882.3 1345.0 1884.8 1345.1 1887.3 1345.2 1889.8 1345.3 1892.3 1345.4 1894.7 1345.5 1897.2 1345.6 1899.7 1345.7 1902.2 1345.8 1904.7 1345.9 1907.2 1345.9 1909.7 1346.0 1912.2 1346.1 1914.7 1346.2 1917.2 1346.3 1919.7 1346.4 1922.2 1346.5 1924.7 1346.6 1927.2 1346.7 1929.7 1346.8 1932.2 1346.8 1934.7 1346.9 1937.1 1347.0 1939.6 1347.1 1942.1 1347.2 1944.6 1347.3 1947.1 1347.4 1949.6 1347.4 1952.1 1347.5 1954.6 1347.6 1957.1 1347.7 1959.6 1347.8 1962.1 1347.9 1964.6 1347.9 1967.1 1348.0 1969.6 1348.1 1972.1 1348.2 1974.6 1348.3 1977.1 1348.4 1979.6 1348.5 1982.1 1348.5 1984.6 1348.6 1987.1 1348.7 1989.5 1348.8 1992.0 1348.9 1994.5 1349.0 1997.0 1349.1 1999.5 1349.2 2002.0 1349.3 2004.5 1349.4 2007.0 1349.5 2009.5 1349.5 2012.0 1349.6 2014.5 1349.7 2017.0 1349.8 2019.5 1349.9 2022.0 1350.0 2024.5 1350.1 2027.0 1350.3 2029.5 1350.4 2032.0 1350.5 2034.5 1350.6 2037.0 1350.7 2039.5 1350.8 2042.0 1350.9"/>
<path stroke="#0000ff" d="M174.0 1311.5L176.5 1311.5 179.0 1311.6 181.5 1311.6 184.0 1311.6 186.5 1311.7 189.0 1311.7 191.5 1311.7 194.0 1311.8 196.5 1311.8 199.0 1311.8 201.5 1311.9 204.0 1311.9 206.5 1311.9 209.0 1312.0 211.5 1312.0 214.0 1312.1 216.5 1312.1 219.0 1312.1 221.5 1312.2 224.0 1312.2 226.5 1312.2 229.0 1312.3 231.5 1312.3 234.0 1312.3 236.5 1312.4 239.0 1312.4 241.5 1312.4 244.0 1312.5 246.5 1312.5 249.0 1312.5 251.5 1312.6 254.0 1312.6 256.5 1312.6 259.0 1312.7 261.5 1312.7 264.0 1312.7 266.5 1312.8 269.0 1312.8 271.4 1312.8 273.9 1312.9 276.4 1312.9 278.9 1312.9 281.4 1313.0 283.9 1313.0 286.4 1313.0 288.9 1313.1 291.4 1313.1 293.9 1313.1 296.4 1313.2 298.9 1313.2 301.4 1313.2 303.9 1313.3 306.4 1313.3 308.9 1313.3 311.4 1313.4 313.9 1313.4 316.4 1313.4 318.9 1313.5 321.4 1313.5 323.9 1313.5 326.4 1313.6 328.9 1313.6 331.4 1313.6 333.9 1313.7 336.4 1313.7 338.9 1313.7 341.4 1313.8 343.9 1313.8 346.4 1313.8 348.9 1313.9 351.4 1313.9 353.9 1313.9 356.4 1314.0 358.9 1314.0 361.4 1314.0 363.9 1314.1 366.4 1314.1 368.9 1314.1 371.4 1314.2 373.9 1314.2 376.4 1314.2 378.9 1314.3 381.4 1314.3 383.8 1314.3 386.3 1314.4 388.8 1314.4 391.3 1314.4 393.8 1314.5 396.3 1314.5 398.8 1314.5 401.3 1314.5 403.8 1314.6 406.3 1314.6 408.8 1314.6 411.3 1314.7 413.8 1314.7 416.3 1314.7 418.8 1314.8 421.3 1314.8 423.8 1314.8 426.3 1314.9 428.8 1314.9 431.3 1314.9 433.8 1314.9 436.3 1315.0 438.8 1315.0 441.3 1315.0 443.8 1315.1 446.3 1315.1 448.8 1315.1 451.3 1315.2 453.8 1315.2 456.3 1315.2 458.8 1315.2 461.3 1315.3 463.8 1315.3 466.3 1315.3 468.8 1315.4 471.3 1315.4 473.8 1315.4 476.3 1315.4 478.7 1315.5 481.2 1315.5 483.7 1315.5 486.2 1315.5 488.7 1315.6 491.2 1315.6 493.7 1315.6 496.2 1315.7 498.7 1315.7 501.2 1315.7 503.7 1315.7 506.2 1315.8 508.7 1315.8 511.2 1315.8 513.7 1315.8 516.2 1315.9 518.7 1315.9 521.2 1315.9 523.7 1315.9 526.2 1316.0 528.7 1316.0 531.2 1316.0 533.7 1316.0 536.2 1316.1 538.7 1316.1 541.2 1316.1 543.7 1316.1 546.2 1316.2 548.7 1316.2 551.2 1316.2 553.7 1316.2 556.2 1316.3 558.7 1316.3 561.2 1316.3 563.7 1316.3 566.2 1316.4 568.7 1316.4 571.2 1316.4 573.7 1316.4 576.2 1316.4 578.6 1316.5 581.1 1316.5 583.6 1316.5 586.1 1316.5 588.6 1316.6 591.1 1316.6 593.6 1316.6 596.1 1316.6 598.6 1316.6 601.1 1316.7 603.6 1316.7 606.1 1316.7 608.6 1316.7 611.1 1316.7 613.6 1316.8 616.1 1316.8 618.6 1316.8 621.1 1316.8 623.6 1316.8 626.1 1316.9 628.6 1316.9 631.1 1316.9 633.6 1316.9 636.1 1316.9 638.6 1317.0 641.1 1317.0 643.6 1317.0 646.1 1317.0 648.6 1317.0 651.1 1317.0 653.6 1317.1 656.1 1317.1 658.6 1317.1 661.1 1317.1 663.6 1317.1 666.1 1317.1 668.6 1317.2 671.1 1317.2 673.6 1317.2 676.1 1317.2 678.6 1317.2 681.1 1317.2 683.6 1317.2 686.1 1317.3 688.6 1317.3 691.1 1317.3 693.6 1317.3 696.1 1317.3 698.6 1317.3 701.1 1317.3 703.6 1317.4 706.1 1317.4 708.6 1317.4 711.1 1317.4 713.6 1317.4 716.1 1317.4 718.6 1317.4 721.1 1317.4 723.6 1317.4 726.1 1317.5 728.6 1317.5 731.1 1317.5 733.6 1317.5 736.1 1317.5 738.6 1317.5 741.1 1317.5 743.6 1317.5 746.1 1317.5 748.6 1317.5 751.1 1317.5 753.6 1317.6 756.1 1317.6 758.6 1317.6 761.1 1317.6 763.6 1317.6 766.1 1317.6 768.6 1317.6 771.1 1317.6 773.6 1317.6 776.1 1317.6 778.6 1317.6 781.1 1317.6 783.6 1317.6 786.1 1317.6 788.6 1317.7 791.1 1317.7 793.6 1317.7 796.1 1317.7 798.6 1317.7 801.1 1317.7 803.6 1317.7 806.1 1317.7 808.6 1317.7 811.1 1317.7 813.6 1317.8 816.1 1317.8 818.6 1317.8 821.1 1317.8 823.6 1317.8 826.1 1317.8 828.6 1317.8 831.0 1317.9 833.5 1317.9 836.0 1317.9 838.5 1317.9 841.0 1318.0 843.5 1318.0 846.0 1318.0 848.5 1318.0 851.0 1318.1 853.5 1318.1 856.0 1318.1 858.5 1318.2 861.0 1318.2 863.5 1318.2 866.0 1318.3 868.5 1318.3 871.0 1318.4 873.5 1318.4 876.0 1318.5 878.5 1318.5 881.0 1318.6 883.5 1318.6 885.9 1318.7 888.4 1318.7 890.9 1318.8 893.4 1318.9 895.9 1318.9 898.4 1319.0 900.9 1319.1 903.4 1319.2 905.9 1319.2 908.4 1319.3 910.8 1319.4 913.3 1319.5 915.8 1319.6 918.3 1319.7 920.8 1319.7 923.3 1319.8 925.8 1319.9 928.2 1320.0 930.7 1320.1 933.2 1320.1 935.7 1320.2 938.2 1320.2 940.7 1320.3 943.2 1320.3 945.7 1320.4 948.2 1320.4 950.7 1320.4 953.2 1320.4 955.7 1320.4 958.2 1320.3 960.7 1320.3 963.2 1320.2 965.7 1320.1 968.2 1320.0 970.7 1319.9 973.2 1319.8 975.7 1319.6 978.2 1319.5 980.7 1319.3 983.3 1319.1 985.8 1318.8 988.3 1318.5 990.8 1318.3 993.3 1317.9 995.9 1317.6 998.4 1317.2 1000.9 1316.8 1003.4 1316.4 1005.8 1315.9 1008.3 1315.5 1010.8 1314.9 1013.3 1314.4 1015.7 1313.8 1018.1 1313.2 1020.6 1312.5 1023.0 1311.8 1025.3 1311.1 1027.7 1310.3 1030.1 1309.5 1032.4 1308.7 1034.7 1307.8 1037.0 1306.9 1039.3 1306.0 1041.5 1305.0 1043.7 1303.9 1045.9 1302.8 1048.0 1301.7 1050.2 1300.5 1052.3 1299.3 1054.3 1298.0 1056.4 1296.7 1058.4 1295.4 1060.3 1293.9 1062.3 1292.5 1064.2 1291.0 1066.0 1289.4 1067.9 1287.8 1069.6 1286.2 1071.4 1284.5 1073.1 1282.7 1074.8 1281.0 1076.5 1279.1 1078.1 1277.3 1079.7 1275.4 1081.3 1273.5 1082.8 1271.5 1084.3 1269.5 1085.8 1267.5 1087.2 1265.5 1088.7 1263.4 1090.1 1261.3 1091.4 1259.2 1092.8 1257.0 1094.1 1254.8 1095.4 1252.6 1096.7 1250.4 1097.9 1248.2 1099.1 1246.0 1100.4 1243.7 1101.5 1241.4 1102.7 1239.2 1103.8 1236.9 1105.0 1234.6 1106.1 1232.3 1107.2 1229.9 1108.2 1227.6 1109.3 1225.3 1110.3 1223.0 1111.3 1220.7 1112.3 1218.4 1113.3 1216.0 1114.3 1213.7 1115.2 1211.4 1116.2 1209.1 1117.1 1206.7 1118.0 1204.4 1118.9 1202.1 1119.8 1199.8 1120.7 1197.4 1121.6 1195.1 1122.5 1192.8 1123.3 1190.4 1124.1 1188.1 1125.0 1185.8 1125.8 1183.4 1126.6 1181.1 1127.4 1178.8 1128.2 1176.4 1129.0 1174.1 1129.8 1171.7 1130.6 1169.4 1131.4 1167.0 1132.2 1164.7 1133.0 1162.3 1133.7 1160.0 1134.5 1157.6 1135.3 1155.3 1136.0 1152.9 1136.8 1150.6 1137.6 1148.2 1138.3 1145.9 1139.1 1143.5 1139.8 1141.1 1140.6 1138.8 1141.4 1136.4 1142.1 1134.0 1142.9 1131.7 1143.6 1129.3 1144.4 1126.9 1145.2 1124.6 1145.9 1122.2 1146.7 1119.8 1147.4 1117.4 1148.2 1115.0 1148.9 1112.7 1149.7 1110.3 1150.4 1107.9 1151.2 1105.5 1152.0 1103.1 1152.7 1100.7 1153.5 1098.4 1154.2 1096.0 1155.0 1093.6 1155.7 1091.2 1156.4 1088.8 1157.2 1086.4 1157.9 1084.0 1158.7 1081.6 1159.4 1079.2 1160.2 1076.9 1160.9 1074.5 1161.7 1072.1 1162.4 1069.7 1163.1 1067.3 1163.9 1064.9 1164.6 1062.5 1165.4 1060.1 1166.1 1057.7 1166.8 1055.3 1167.6 1052.9 1168.3 1050.5 1169.0 1048.1 1169.8 1045.7 1170.5 1043.3 1171.2 1040.9 1172.0 1038.5 1172.7 1036.1 1173.4 1033.7 1174.2 1031.3 1174.9 1028.9 1175.6 1026.5 1176.3 1024.1 1177.1 1021.7 1177.8 1019.3 1178.5 1016.9 1179.2 1014.5 1180.0 1012.1 1180.7 1009.7 1181.4 1007.3 1182.1 1004.9 1182.8 1002.5 1183.6 1000.2 1184.3 997.8 1185.0 995.4 1185.7 993.0 1186.4 990.6 1187.1 988.2 1187.9 985.8 1188.6 983.4 1189.3 981.0 1190.0 978.6 1190.8 976.3 1191.5 973.9 1192.2 971.5 1193.0 969.1 1193.7 966.7 1194.5 964.4 1195.2 962.0 1196.0 959.6 1196.8 957.3 1197.5 954.9 1198.3 952.5 1199.1 950.2 1199.9 947.8 1200.7 945.5 1201.5 943.1 1202.4 940.8 1203.2 938.4 1204.1 936.1 1204.9 933.8 1205.8 931.4 1206.7 929.1 1207.6 926.8 1208.5 924.5 1209.4 922.1 1210.4 919.8 1211.3 917.5 1212.3 915.2 1213.2 912.9 1214.2 910.6 1215.2 908.3 1216.2 906.0 1217.2 903.8 1218.2 901.5 1219.2 899.2 1220.2 896.9 1221.3 894.6 1222.3 892.3 1223.3 890.0 1224.2 887.7 1225.2 885.4 1226.2 883.1 1227.2 880.8 1228.1 878.4 1229.0 876.1 1230.0 873.8 1230.9 871.4 1231.8 869.1 1232.6 866.7 1233.5 864.4 1234.4 862.1 1235.3 859.7 1236.2 857.4 1237.1 855.1 1238.0 852.7 1239.0 850.4 1239.9 848.1 1240.9 845.8 1241.9 843.6 1243.0 841.3 1244.1 839.1 1245.2 836.9 1246.4 834.7 1247.6 832.5 1248.8 830.3 1250.1 828.2 1251.4 826.1 1252.8 824.0 1254.1 821.9 1255.5 819.8 1257.0 817.8 1258.4 815.7 1259.9 813.7 1261.3 811.7 1262.8 809.7 1264.4 807.7 1265.9 805.8 1267.5 803.9 1269.2 802.0 1270.9 800.1 1272.6 798.3 1274.4 796.5 1276.3 794.8 1278.2 793.2 1280.1 791.7 1282.2 790.3 1284.3 789.1 1286.5 788.0 1288.8 787.2 1291.1 786.5 1293.6 786.0 1296.1 785.8 1298.7 785.8 1301.2 786.0 1303.7 786.5 1306.1 787.2 1308.4 788.1 1310.6 789.3 1312.6 790.7 1314.6 792.2 1316.5 793.8 1318.2 795.5 1319.9 797.3 1321.4 799.2 1323.0 801.2 1324.4 803.3 1325.8 805.3 1327.2 807.5 1328.5 809.6 1329.8 811.8 1331.1 814.0 1332.3 816.1 1333.5 818.3 1334.8 820.5 1335.9 822.7 1337.1 824.9 1338.3 827.2 1339.4 829.4 1340.5 831.6 1341.6 833.9 1342.7 836.1 1343.8 838.4 1344.8 840.6 1345.8 842.9 1346.9 845.2 1347.9 847.5 1348.8 849.8 1349.8 852.1 1350.8 854.4 1351.7 856.7 1352.6 859.0 1353.6 861.3 1354.5 863.6 1355.4 865.9 1356.2 868.3 1357.1 870.6 1358.0 872.9 1358.8 875.3 1359.7 877.6 1360.5 880.0 1361.3 882.3 1362.1 884.7 1362.9 887.0 1363.7 889.4 1364.5 891.8 1365.3 894.1 1366.1 896.5 1366.9 898.9 1367.6 901.2 1368.4 903.6 1369.1 906.0 1369.9 908.4 1370.6 910.8 1371.4 913.2 1372.1 915.5 1372.8 917.9 1373.6 920.3 1374.3 922.7 1375.0 925.1 1375.7 927.5 1376.4 929.9 1377.1 932.3 1377.8 934.7 1378.5 937.1 1379.2 939.5 1379.9 941.9 1380.6 944.3 1381.3 946.7 1381.9 949.1 1382.6 951.6 1383.3 954.0 1383.9 956.4 1384.6 958.8 1385.3 961.2 1385.9 963.6 1386.6 966.0 1387.2 968.4 1387.8 970.9 1388.5 973.3 1389.1 975.7 1389.7 978.1 1390.4 980.5 1391.0 983.0 1391.6 985.4 1392.2 987.8 1392.8 990.2 1393.5 992.6 1394.1 995.1 1394.7 997.5 1395.3 999.9 1395.9 1002.3 1396.5 1004.8 1397.1 1007.2 1397.7 1009.6 1398.3 1012.0 1398.9 1014.5 1399.5 1016.9 1400.1 1019.3 1400.7 1021.7 1401.3 1024.2 1401.9 1026.6 1402.5 1029.0 1403.1 1031.4 1403.7 1033.9 1404.3 1036.3 1404.9 1038.7 1405.5 1041.1 1406.1 1043.5 1406.7 1046.0 1407.3 1048.4 1407.9 1050.8 1408.5 1053.2 1409.1 1055.6 1409.7 1058.1 1410.4 1060.5 1411.0 1062.9 1411.6 1065.3 1412.2 1067.7 1412.9 1070.2 1413.5 1072.6 1414.1 1075.0 1414.8 1077.4 1415.4 1079.8 1416.1 1082.2 1416.7 1084.6 1417.4 1087.0 1418.0 1089.5 1418.7 1091.9 1419.4 1094.3 1420.1 1096.7 1420.7 1099.1 1421.4 1101.5 1422.1 1103.9 1422.8 1106.3 1423.5 1108.7 1424.2 1111.1 1425.0 1113.5 1425.7 1115.9 1426.4 1118.3 1427.2 1120.7 1427.9 1123.0 1428.7 1125.4 1429.4 1127.8 1430.2 1130.2 1431.0 1132.6 1431.8 1135.0 1432.5 1137.4 1433.3 1139.7 1434.2 1142.1 1435.0 1144.5 1435.8 1146.8 1436.7 1149.2 1437.5 1151.6 1438.4 1153.9 1439.3 1156.2 1440.2 1158.6 1441.1 1160.9 1442.1 1163.2 1443.0 1165.5 1444.0 1167.8 1445.0 1170.1 1446.0 1172.3 1447.1 1174.6 1448.1 1176.8 1449.2 1179.1 1450.3 1181.3 1451.5 1183.5 1452.6 1185.7 1453.8 1187.8 1455.0 1190.0 1456.2 1192.1 1457.5 1194.2 1458.8 1196.3 1460.1 1198.3 1461.5 1200.4 1462.9 1202.4 1464.3 1204.4 1465.7 1206.4 1467.2 1208.3 1468.7 1210.3 1470.3 1212.2 1471.9 1214.0 1473.5 1215.9 1475.2 1217.7 1476.9 1219.5 1478.6 1221.3 1480.4 1223.0 1482.2 1224.7 1484.1 1226.4 1485.9 1228.0 1487.9 1229.7 1489.8 1231.2 1491.8 1232.8 1493.9 1234.3 1495.9 1235.8 1498.0 1237.3 1500.1 1238.7 1502.2 1240.2 1504.4 1241.5 1506.6 1242.9 1508.8 1244.2 1511.0 1245.5 1513.2 1246.8 1515.4 1248.0 1517.7 1249.2 1520.0 1250.4 1522.3 1251.5 1524.6 1252.6 1526.9 1253.7 1529.2 1254.8 1531.5 1255.8 1533.8 1256.8 1536.1 1257.7 1538.5 1258.7 1540.8 1259.6 1543.1 1260.5 1545.5 1261.3 1547.8 1262.2 1550.1 1263.0 1552.5 1263.8 1554.8 1264.6 1557.2 1265.3 1559.5 1266.1 1561.9 1266.8 1564.2 1267.6 1566.6 1268.3 1569.0 1269.0 1571.3 1269.7 1573.7 1270.4 1576.1 1271.1 1578.5 1271.8 1580.8 1272.4 1583.2 1273.1 1585.6 1273.8 1588.0 1274.4 1590.4 1275.0 1592.8 1275.7 1595.2 1276.3 1597.6 1276.9 1600.0 1277.5 1602.4 1278.1 1604.8 1278.7 1607.2 1279.3 1609.7 1279.9 1612.1 1280.5 1614.5 1281.1 1616.9 1281.6 1619.3 1282.2 1621.8 1282.7 1624.2 1283.3 1626.6 1283.8 1629.1 1284.3 1631.5 1284.8 1633.9 1285.3 1636.4 1285.9 1638.8 1286.4 1641.3 1286.8 1643.7 1287.3 1646.2 1287.8 1648.6 1288.3 1651.1 1288.8 1653.5 1289.2 1656.0 1289.7 1658.5 1290.1 1660.9 1290.6 1663.4 1291.0 1665.8 1291.4 1668.3 1291.9 1670.8 1292.3 1673.2 1292.7 1675.7 1293.1 1678.2 1293.5 1680.6 1293.9 1683.1 1294.3 1685.6 1294.7 1688.1 1295.1 1690.5 1295.4 1693.0 1295.8 1695.5 1296.2 1698.0 1296.5 1700.4 1296.9 1702.9 1297.2 1705.4 1297.6 1707.9 1297.9 1710.4 1298.2 1712.9 1298.6 1715.3 1298.9 1717.8 1299.2 1720.3 1299.5 1722.8 1299.8 1725.3 1300.1 1727.8 1300.4 1730.2 1300.7 1732.7 1301.0 1735.2 1301.3 1737.7 1301.6 1740.2 1301.9 1742.7 1302.1 1745.2 1302.4 1747.6 1302.7 1750.1 1302.9 1752.6 1303.2 1755.1 1303.4 1757.6 1303.7 1760.1 1303.9 1762.6 1304.2 1765.1 1304.4 1767.5 1304.6 1770.0 1304.9 1772.5 1305.1 1775.0 1305.3 1777.5 1305.5 1780.0 1305.8 1782.5 1306.0 1785.0 1306.2 1787.5 1306.4 1789.9 1306.6 1792.4 1306.8 1794.9 1307.0 1797.4 1307.1 1799.9 1307.3 1802.4 1307.5 1804.9 1307.7 1807.4 1307.9 1809.9 1308.0 1812.4 1308.2 1814.8 1308.4 1817.3 1308.5 1819.8 1308.7 1822.3 1308.9 1824.8 1309.0 1827.3 1309.2 1829.8 1309.3 1832.3 1309.5 1834.8 1309.6 1837.3 1309.7 1839.8 1309.9 1842.3 1310.0 1844.7 1310.1 1847.2 1310.3 1849.7 1310.4 1852.2 1310.5 1854.7 1310.6 1857.2 1310.8 1859.7 1310.9 1862.2 1311.0 1864.7 1311.1 1867.2 1311.2 1869.7 1311.3 1872.2 1311.4 1874.7 1311.5 1877.2 1311.6 1879.7 1311.7 1882.2 1311.8 1884.6 1311.9 1887.1 1312.0 1889.6 1312.1 1892.1 1312.2 1894.6 1312.3 1897.1 1312.3 1899.6 1312.4 1902.1 1312.5 1904.6 1312.6 1907.1 1312.7 1909.6 1312.7 1912.1 1312.8 1914.6 1312.9 1917.1 1313.0 1919.6 1313.0 1922.1 1313.1 1924.6 1313.2 1927.1 1313.2 1929.6 1313.3 1932.1 1313.4 1934.6 1313.4 1937.1 1313.5 1939.6 1313.5 1942.1 1313.6 1944.6 1313.7 1947.1 1313.7 1949.6 1313.8 1952.0 1313.8 1954.5 1313.9 1957.0 1313.9 1959.5 1314.0 1962.0 1314.0 1964.5 1314.1 1967.0 1314.1 1969.5 1314.2 1972.0 1314.2 1974.5 1314.3 1977.0 1314.3 1979.5 1314.4 1982.0 1314.4 1984.5 1314.5 1987.0 1314.5 1989.5 1314.5 1992.0 1314.6 1994.5 1314.6 1997.0 1314.7 1999.5 1314.7 2002.0 1314.8 2004.5 1314.8 2007.0 1314.9 2009.5 1314.9 2012.0 1314.9 2014.5 1315.0 2017.0 1315.0 2019.5 1315.1 2022.0 1315.1 2024.5 1315.2 2027.0 1315.2 2029.5 1315.2 2032.0 1315.3 2034.5 1315.3 2037.0 1315.4 2039.5 1315.4 2042.0 1315.5"/>
<path stroke="#ff00ff" d="M174.0 1309.5L176.5 1309.5 179.0 1309.5 181.5 1309.5 184.0 1309.5 186.5 1309.5 189.0 1309.5 191.5 1309.5 194.0 1309.5 196.5 1309.6 199.0 1309.6 201.5 1309.6 204.0 1309.6 206.5 1309.6 209.0 1309.6 211.5 1309.6 214.0 1309.6 216.5 1309.6 219.0 1309.6 221.5 1309.6 224.0 1309.6 226.5 1309.7 229.0 1309.7 231.5 1309.7 234.0 1309.7 236.5 1309.7 239.0 1309.7 241.5 1309.7 244.0 1309.7 246.5 1309.7 249.0 1309.7 251.5 1309.8 254.0 1309.8 256.5 1309.8 259.0 1309.8 261.5 1309.8 264.0 1309.8 266.5 1309.8 269.0 1309.8 271.5 1309.8 274.0 1309.8 276.5 1309.9 279.0 1309.9 281.5 1309.9 284.0 1309.9 286.5 1309.9 289.0 1309.9 291.5 1309.9 294.0 1309.9 296.5 1309.9 299.0 1309.9 301.5 1310.0 304.0 1310.0 306.5 1310.0 309.0 1310.0 311.5 1310.0 314.0 1310.0 316.5 1310.0 319.0 1310.0 321.5 1310.0 324.0 1310.1 326.5 1310.1 329.0 1310.1 331.5 1310.1 334.0 1310.1 336.5 1310.1 339.0 1310.1 341.5 1310.1 344.0 1310.1 346.5 1310.2 349.0 1310.2 351.5 1310.2 354.0 1310.2 356.5 1310.2 359.0 1310.2 361.5 1310.2 364.0 1310.2 366.5 1310.2 369.0 1310.3 371.5 1310.3 374.0 1310.3 376.5 1310.3 379.0 1310.3 381.5 1310.3 384.0 1310.3 386.5 1310.3 389.0 1310.3 391.4 1310.4 393.9 1310.4 396.4 1310.4 398.9 1310.4 401.4 1310.4 403.9 1310.4 406.4 1310.4 408.9 1310.4 411.4 1310.4 413.9 1310.5 416.4 1310.5 418.9 1310.5 421.4 1310.5 423.9 1310.5 426.4 1310.5 428.9 1310.5 431.4 1310.5 433.9 1310.5 436.4 1310.6 438.9 1310.6 441.4 1310.6 443.9 1310.6 446.4 1310.6 448.9 1310.6 451.4 1310.6 453.9 1310.6 456.4 1310.6 458.9 1310.7 461.4 1310.7 463.9 1310.7 466.4 1310.7 468.9 1310.7 471.4 1310.7 473.9 1310.7 476.4 1310.7 478.9 1310.7 481.4 1310.7 483.9 1310.8 486.3 1310.8 488.8 1310.8 491.3 1310.8 493.8 1310.8 496.3 1310.8 498.8 1310.8 501.3 1310.8 503.8 1310.8 506.3 1310.9 508.8 1310.9 511.3 1310.9 513.8 1310.9 516.3 1310.9 518.8 1310.9 521.3 1310.9 523.8 1310.9 526.3 1310.9 528.8 1310.9 531.3 1311.0 533.8 1311.0 536.3 1311.0 538.8 1311.0 541.3 1311.0 543.8 1311.0 546.3 1311.0 548.8 1311.0 551.3 1311.0 553.8 1311.0 556.3 1311.1 558.8 1311.1 561.3 1311.1 563.8 1311.1 566.3 1311.1 568.8 1311.1 571.3 1311.1 573.8 1311.1 576.3 1311.1 578.8 1311.1 581.3 1311.1 583.8 1311.1 586.2 1311.2 588.7 1311.2 591.2 1311.2 593.7 1311.2 596.2 1311.2 598.7 1311.2 601.2 1311.2 603.7 1311.2 606.2 1311.2 608.7 1311.2 611.2 1311.2 613.7 1311.2 616.2 1311.3 618.7 1311.3 621.2 1311.3 623.7 1311.3 626.2 1311.3 628.7 1311.3 631.2 1311.3 633.7 1311.3 636.2 1311.3 638.7 1311.3 641.2 1311.3 643.7 1311.3 646.2 1311.3 648.7 1311.3 651.2 1311.3 653.7 1311.4 656.2 1311.4 658.7 1311.4 661.2 1311.4 663.7 1311.4 666.2 1311.4 668.7 1311.4 671.2 1311.4 673.7 1311.4 676.2 1311.4 678.7 1311.4 681.2 1311.4 683.7 1311.4 686.2 1311.4 688.7 1311.4 691.2 1311.4 693.7 1311.4 696.2 1311.4 698.7 1311.4 701.2 1311.4 703.7 1311.5 706.2 1311.5 708.7 1311.5 711.2 1311.5 713.7 1311.5 716.2 1311.5 718.7 1311.5 721.2 1311.5 723.7 1311.5 726.2 1311.5 728.7 1311.5 731.2 1311.5 733.7 1311.5 736.2 1311.5 738.7 1311.5 741.2 1311.5 743.7 1311.5 746.2 1311.5 748.7 1311.5 751.2 1311.5 753.7 1311.5 756.2 1311.5 758.7 1311.5 761.2 1311.5 763.7 1311.5 766.2 1311.5 768.7 1311.5 771.2 1311.5 773.7 1311.5 776.2 1311.5 778.7 1311.5 781.2 1311.5 783.7 1311.5 786.2 1311.5 788.7 1311.5 791.3 1311.5 793.8 1311.5 796.3 1311.5 798.8 1311.5 801.3 1311.5 803.8 1311.5 806.3 1311.5 808.8 1311.5 811.3 1311.5 813.8 1311.5 816.3 1311.5 818.8 1311.5 821.3 1311.5 823.8 1311.5 826.3 1311.5 828.8 1311.5 831.3 1311.5 833.8 1311.5 836.3 1311.5 838.8 1311.5 841.3 1311.5 843.8 1311.5 846.3 1311.5 848.8 1311.4 851.3 1311.4 853.9 1311.4 856.4 1311.4 858.9 1311.4 861.4 1311.4 863.9 1311.4 866.4 1311.4 868.9 1311.4 871.4 1311.4 873.9 1311.4 876.4 1311.4 878.9 1311.4 881.4 1311.4 883.9 1311.4 886.4 1311.4 888.9 1311.4 891.4 1311.4 893.9 1311.4 896.4 1311.4 898.9 1311.4 901.4 1311.3 903.9 1311.3 906.4 1311.3 908.9 1311.3 911.4 1311.3 913.9 1311.3 916.4 1311.3 918.9 1311.3 921.4 1311.3 923.9 1311.3 926.4 1311.3 928.9 1311.3 931.4 1311.3 933.9 1311.3 936.4 1311.3 938.9 1311.3 941.4 1311.3 943.8 1311.3 946.3 1311.3 948.8 1311.4 951.3 1311.4 953.8 1311.4 956.3 1311.4 958.8 1311.4 961.2 1311.4 963.7 1311.4 966.2 1311.4 968.7 1311.4 971.2 1311.4 973.6 1311.4 976.1 1311.5 978.6 1311.5 981.1 1311.5 983.5 1311.5 986.0 1311.5 988.5 1311.5 990.9 1311.5 993.4 1311.6 995.9 1311.6 998.3 1311.6 1000.8 1311.6 1003.3 1311.7 1005.7 1311.7 1008.2 1311.7 1010.6 1311.7 1013.1 1311.8 1015.5 1311.8 1018.0 1311.8 1020.4 1311.9 1022.9 1311.9 1025.3 1311.9 1027.8 1312.0 1030.2 1312.0 1032.7 1312.0 1035.2 1312.1 1037.7 1312.1 1040.2 1312.2 1042.7 1312.2 1045.2 1312.2 1047.7 1312.3 1050.3 1312.3 1052.9 1312.4 1055.5 1312.5 1058.1 1312.5 1060.7 1312.6 1063.4 1312.6 1066.1 1312.7 1068.8 1312.7 1071.5 1312.8 1074.2 1312.8 1076.9 1312.8 1079.6 1312.8 1082.3 1312.7 1085.0 1312.6 1087.6 1312.5 1090.3 1312.3 1092.9 1312.1 1095.5 1311.8 1098.1 1311.5 1100.6 1311.1 1103.1 1310.6 1105.5 1310.1 1107.9 1309.5 1110.2 1308.8 1112.5 1308.1 1114.7 1307.2 1116.8 1306.3 1118.9 1305.3 1121.0 1304.2 1122.9 1303.0 1124.8 1301.8 1126.7 1300.5 1128.5 1299.1 1130.2 1297.6 1131.9 1296.1 1133.6 1294.5 1135.2 1292.9 1136.8 1291.2 1138.3 1289.4 1139.8 1287.6 1141.2 1285.7 1142.6 1283.8 1143.9 1281.9 1145.3 1279.9 1146.6 1277.8 1147.8 1275.8 1149.0 1273.6 1150.2 1271.5 1151.4 1269.3 1152.5 1267.1 1153.6 1264.9 1154.7 1262.6 1155.8 1260.3 1156.8 1258.0 1157.9 1255.7 1158.9 1253.4 1159.9 1251.0 1160.8 1248.7 1161.8 1246.3 1162.8 1243.9 1163.7 1241.5 1164.6 1239.2 1165.6 1236.8 1166.5 1234.4 1167.4 1232.0 1168.3 1229.6 1169.2 1227.3 1170.1 1224.9 1170.9 1222.5 1171.8 1220.1 1172.7 1217.7 1173.5 1215.3 1174.4 1213.0 1175.2 1210.6 1176.0 1208.2 1176.8 1205.8 1177.7 1203.4 1178.5 1201.0 1179.3 1198.6 1180.0 1196.2 1180.8 1193.8 1181.6 1191.4 1182.4 1189.0 1183.1 1186.6 1183.9 1184.2 1184.6 1181.8 1185.4 1179.4 1186.1 1177.0 1186.8 1174.6 1187.6 1172.2 1188.3 1169.8 1189.0 1167.4 1189.7 1165.0 1190.4 1162.6 1191.1 1160.2 1191.7 1157.8 1192.4 1155.3 1193.1 1152.9 1193.7 1150.5 1194.4 1148.1 1195.1 1145.7 1195.7 1143.3 1196.3 1140.9 1197.0 1138.4 1197.6 1136.0 1198.2 1133.6 1198.8 1131.2 1199.5 1128.8 1200.1 1126.3 1200.7 1123.9 1201.3 1121.5 1201.9 1119.1 1202.4 1116.6 1203.0 1114.2 1203.6 1111.8 1204.2 1109.4 1204.7 1106.9 1205.3 1104.5 1205.9 1102.1 1206.4 1099.6 1207.0 1097.2 1207.5 1094.8 1208.1 1092.4 1208.6 1089.9 1209.1 1087.5 1209.6 1085.0 1210.2 1082.6 1210.7 1080.2 1211.2 1077.7 1211.7 1075.3 1212.2 1072.9 1212.7 1070.4 1213.2 1068.0 1213.7 1065.5 1214.2 1063.1 1214.7 1060.7 1215.2 1058.2 1215.7 1055.8 1216.2 1053.3 1216.7 1050.9 1217.1 1048.5 1217.6 1046.0 1218.1 1043.6 1218.6 1041.1 1219.0 1038.7 1219.5 1036.2 1219.9 1033.8 1220.4 1031.3 1220.9 1028.9 1221.3 1026.4 1221.8 1024.0 1222.2 1021.5 1222.7 1019.1 1223.1 1016.6 1223.6 1014.2 1224.0 1011.7 1224.4 1009.3 1224.9 1006.8 1225.3 1004.4 1225.7 1001.9 1226.2 999.5 1226.6 997.0 1227.0 994.5 1227.5 992.1 1227.9 989.6 1228.3 987.2 1228.8 984.7 1229.2 982.3 1229.6 979.8 1230.0 977.4 1230.4 974.9 1230.9 972.4 1231.3 970.0 1231.7 967.5 1232.1 965.1 1232.6 962.6 1233.0 960.1 1233.4 957.7 1233.8 955.2 1234.2 952.8 1234.7 950.3 1235.1 947.8 1235.5 945.4 1235.9 942.9 1236.3 940.4 1236.8 938.0 1237.2 935.5 1237.6 933.1 1238.0 930.6 1238.4 928.1 1238.9 925.7 1239.3 923.2 1239.7 920.7 1240.2 918.3 1240.6 915.8 1241.0 913.3 1241.4 910.9 1241.9 908.4 1242.3 905.9 1242.7 903.5 1243.2 901.0 1243.6 898.5 1244.0 896.1 1244.5 893.6 1244.9 891.1 1245.4 888.7 1245.8 886.2 1246.3 883.7 1246.7 881.3 1247.2 878.8 1247.6 876.3 1248.1 873.9 1248.5 871.4 1249.0 868.9 1249.4 866.5 1249.9 864.0 1250.3 861.5 1250.8 859.1 1251.3 856.6 1251.7 854.1 1252.2 851.7 1252.7 849.2 1253.1 846.7 1253.6 844.3 1254.1 841.8 1254.5 839.3 1255.0 836.9 1255.5 834.4 1256.0 831.9 1256.4 829.5 1256.9 827.0 1257.4 824.6 1257.9 822.1 1258.3 819.6 1258.8 817.2 1259.3 814.7 1259.8 812.2 1260.3 809.8 1260.7 807.3 1261.2 804.9 1261.7 802.4 1262.2 800.0 1262.7 797.5 1263.2 795.0 1263.7 792.6 1264.1 790.1 1264.6 787.7 1265.1 785.2 1265.6 782.8 1266.1 780.3 1266.6 777.9 1267.1 775.4 1267.6 773.0 1268.1 770.5 1268.6 768.1 1269.1 765.6 1269.6 763.2 1270.1 760.7 1270.6 758.3 1271.1 755.8 1271.6 753.4 1272.1 750.9 1272.6 748.5 1273.1 746.1 1273.6 743.6 1274.1 741.2 1274.6 738.8 1275.1 736.3 1275.6 733.9 1276.1 731.4 1276.6 729.0 1277.1 726.6 1277.6 724.1 1278.1 721.7 1278.6 719.3 1279.1 716.9 1279.6 714.4 1280.1 712.0 1280.6 709.6 1281.1 707.2 1281.7 704.7 1282.2 702.3 1282.7 699.9 1283.3 697.5 1283.9 695.1 1284.4 692.7 1285.0 690.2 1285.6 687.8 1286.2 685.4 1286.8 683.0 1287.4 680.6 1288.0 678.2 1288.7 675.8 1289.3 673.4 1290.0 671.0 1290.7 668.6 1291.4 666.1 1292.2 663.7 1292.9 661.3 1293.7 658.9 1294.4 656.5 1295.3 654.1 1296.1 651.7 1296.9 649.3 1297.8 646.9 1298.7 644.6 1299.6 642.2 1300.5 639.8 1301.5 637.4 1302.5 635.0 1303.6 632.7 1304.7 630.5 1306.0 628.3 1307.4 626.4 1309.0 624.6 1310.7 623.0 1312.7 621.7 1314.9 620.7 1317.2 620.0 1319.7 619.7 1322.2 619.7 1324.6 620.1 1326.9 621.0 1328.9 622.4 1330.7 624.0 1332.3 625.9 1333.8 628.1 1335.2 630.3 1336.5 632.5 1337.7 634.7 1338.8 636.9 1340.0 639.2 1341.1 641.4 1342.1 643.7 1343.1 646.0 1344.1 648.3 1345.1 650.6 1346.0 652.9 1347.0 655.2 1347.9 657.5 1348.8 659.8 1349.7 662.2 1350.6 664.5 1351.5 666.8 1352.3 669.2 1353.2 671.5 1354.1 673.8 1354.9 676.2 1355.7 678.5 1356.6 680.9 1357.4 683.2 1358.2 685.6 1359.0 688.0 1359.8 690.3 1360.6 692.7 1361.3 695.1 1362.1 697.4 1362.9 699.8 1363.6 702.2 1364.3 704.6 1365.1 707.0 1365.8 709.3 1366.5 711.7 1367.2 714.1 1368.0 716.5 1368.7 718.9 1369.4 721.3 1370.0 723.7 1370.7 726.1 1371.4 728.5 1372.1 730.9 1372.7 733.3 1373.4 735.7 1374.0 738.1 1374.7 740.5 1375.3 743.0 1376.0 745.4 1376.6 747.8 1377.2 750.2 1377.8 752.6 1378.5 755.1 1379.1 757.5 1379.7 759.9 1380.3 762.3 1380.9 764.8 1381.5 767.2 1382.1 769.6 1382.7 772.0 1383.2 774.5 1383.8 776.9 1384.4 779.3 1385.0 781.8 1385.5 784.2 1386.1 786.7 1386.7 789.1 1387.2 791.5 1387.8 794.0 1388.3 796.4 1388.9 798.8 1389.5 801.3 1390.0 803.7 1390.6 806.2 1391.1 808.6 1391.6 811.1 1392.2 813.5 1392.7 815.9 1393.3 818.4 1393.8 820.8 1394.3 823.3 1394.9 825.7 1395.4 828.2 1396.0 830.6 1396.5 833.1 1397.0 835.5 1397.6 837.9 1398.1 840.4 1398.6 842.8 1399.2 845.3 1399.7 847.7 1400.2 850.2 1400.8 852.6 1401.3 855.0 1401.8 857.5 1402.4 859.9 1402.9 862.4 1403.4 864.8 1404.0 867.3 1404.5 869.7 1405.0 872.2 1405.6 874.6 1406.1 877.0 1406.6 879.5 1407.2 881.9 1407.7 884.4 1408.2 886.8 1408.8 889.2 1409.3 891.7 1409.8 894.1 1410.4 896.6 1410.9 899.0 1411.5 901.4 1412.0 903.9 1412.5 906.3 1413.1 908.8 1413.6 911.2 1414.2 913.6 1414.7 916.1 1415.3 918.5 1415.8 920.9 1416.4 923.4 1416.9 925.8 1417.5 928.3 1418.0 930.7 1418.6 933.1 1419.1 935.6 1419.7 938.0 1420.2 940.4 1420.8 942.9 1421.3 945.3 1421.9 947.7 1422.5 950.2 1423.0 952.6 1423.6 955.0 1424.2 957.5 1424.7 959.9 1425.3 962.3 1425.9 964.8 1426.4 967.2 1427.0 969.6 1427.6 972.0 1428.2 974.5 1428.7 976.9 1429.3 979.3 1429.9 981.8 1430.5 984.2 1431.1 986.6 1431.7 989.0 1432.3 991.5 1432.9 993.9 1433.4 996.3 1434.0 998.7 1434.6 1001.1 1435.2 1003.6 1435.9 1006.0 1436.5 1008.4 1437.1 1010.8 1437.7 1013.2 1438.3 1015.7 1438.9 1018.1 1439.5 1020.5 1440.2 1022.9 1440.8 1025.3 1441.4 1027.7 1442.1 1030.2 1442.7 1032.6 1443.3 1035.0 1444.0 1037.4 1444.6 1039.8 1445.3 1042.2 1446.0 1044.6 1446.6 1047.0 1447.3 1049.4 1448.0 1051.8 1448.7 1054.2 1449.4 1056.6 1450.1 1059.0 1450.8 1061.4 1451.5 1063.8 1452.2 1066.2 1452.9 1068.6 1453.6 1071.0 1454.4 1073.4 1455.1 1075.8 1455.9 1078.2 1456.6 1080.5 1457.4 1082.9 1458.2 1085.3 1459.0 1087.7 1459.8 1090.1 1460.6 1092.4 1461.4 1094.8 1462.2 1097.2 1463.0 1099.5 1463.9 1101.9 1464.7 1104.2 1465.6 1106.6 1466.4 1109.0 1467.3 1111.3 1468.2 1113.7 1469.1 1116.0 1470.1 1118.3 1471.0 1120.7 1471.9 1123.0 1472.9 1125.3 1473.9 1127.6 1474.9 1129.9 1475.9 1132.2 1476.9 1134.5 1477.9 1136.8 1479.0 1139.0 1480.0 1141.3 1481.1 1143.5 1482.2 1145.8 1483.4 1148.0 1484.5 1150.2 1485.7 1152.4 1486.9 1154.6 1488.1 1156.8 1489.3 1158.9 1490.6 1161.1 1491.8 1163.2 1493.1 1165.3 1494.5 1167.4 1495.8 1169.5 1497.2 1171.6 1498.6 1173.6 1500.0 1175.7 1501.4 1177.7 1502.9 1179.7 1504.4 1181.7 1505.9 1183.6 1507.4 1185.6 1509.0 1187.5 1510.6 1189.4 1512.3 1191.3 1513.9 1193.1 1515.6 1195.0 1517.4 1196.8 1519.1 1198.5 1520.9 1200.2 1522.8 1201.9 1524.7 1203.5 1526.6 1205.0 1528.6 1206.5 1530.6 1207.9 1532.7 1209.3 1534.8 1210.5 1537.0 1211.7 1539.3 1212.9 1541.5 1214.0 1543.8 1215.0 1546.1 1216.0 1548.5 1217.0 1550.8 1217.9 1553.2 1218.9 1555.5 1219.8 1557.9 1220.8 1560.2 1221.7 1562.5 1222.7 1564.8 1223.8 1567.1 1224.8 1569.4 1225.8 1571.7 1226.9 1573.9 1228.0 1576.2 1229.1 1578.5 1230.2 1580.7 1231.3 1582.9 1232.4 1585.2 1233.5 1587.4 1234.6 1589.7 1235.7 1591.9 1236.8 1594.1 1237.9 1596.4 1239.0 1598.6 1240.1 1600.8 1241.2 1603.1 1242.3 1605.3 1243.4 1607.6 1244.4 1609.8 1245.5 1612.1 1246.5 1614.4 1247.5 1616.7 1248.6 1618.9 1249.6 1621.2 1250.5 1623.5 1251.5 1625.8 1252.5 1628.1 1253.4 1630.4 1254.4 1632.8 1255.3 1635.1 1256.2 1637.4 1257.2 1639.8 1258.0 1642.1 1258.9 1644.4 1259.8 1646.8 1260.7 1649.1 1261.5 1651.5 1262.4 1653.8 1263.2 1656.2 1264.0 1658.6 1264.8 1660.9 1265.6 1663.3 1266.4 1665.7 1267.2 1668.1 1267.9 1670.5 1268.7 1672.9 1269.4 1675.2 1270.2 1677.6 1270.9 1680.0 1271.6 1682.4 1272.3 1684.8 1273.0 1687.2 1273.7 1689.7 1274.3 1692.1 1275.0 1694.5 1275.6 1696.9 1276.3 1699.3 1276.9 1701.7 1277.5 1704.1 1278.1 1706.6 1278.7 1709.0 1279.3 1711.4 1279.9 1713.8 1280.4 1716.3 1281.0 1718.7 1281.5 1721.1 1282.1 1723.6 1282.6 1726.0 1283.1 1728.4 1283.6 1730.9 1284.1 1733.3 1284.6 1735.8 1285.1 1738.2 1285.6 1740.6 1286.1 1743.1 1286.5 1745.5 1287.0 1748.0 1287.4 1750.5 1287.8 1752.9 1288.3 1755.4 1288.7 1757.8 1289.1 1760.3 1289.5 1762.7 1289.9 1765.2 1290.3 1767.7 1290.7 1770.1 1291.0 1772.6 1291.4 1775.1 1291.7 1777.5 1292.1 1780.0 1292.4 1782.5 1292.8 1784.9 1293.1 1787.4 1293.4 1789.9 1293.7 1792.4 1294.0 1794.8 1294.3 1797.3 1294.6 1799.8 1294.9 1802.3 1295.2 1804.8 1295.5 1807.2 1295.7 1809.7 1296.0 1812.2 1296.3 1814.7 1296.5 1817.2 1296.7 1819.7 1297.0 1822.2 1297.2 1824.6 1297.4 1827.1 1297.7 1829.6 1297.9 1832.1 1298.1 1834.6 1298.3 1837.1 1298.5 1839.6 1298.7 1842.1 1298.9 1844.6 1299.1 1847.1 1299.2 1849.6 1299.4 1852.1 1299.6 1854.6 1299.7 1857.1 1299.9 1859.6 1300.1 1862.1 1300.2 1864.6 1300.4 1867.1 1300.5 1869.6 1300.6 1872.1 1300.8 1874.6 1300.9 1877.1 1301.0 1879.6 1301.2 1882.1 1301.3 1884.6 1301.4 1887.1 1301.5 1889.6 1301.6 1892.1 1301.7 1894.6 1301.8 1897.1 1301.9 1899.6 1302.0 1902.1 1302.1 1904.6 1302.2 1907.1 1302.3 1909.6 1302.4 1912.1 1302.5 1914.6 1302.6 1917.1 1302.6 1919.6 1302.7 1922.2 1302.8 1924.7 1302.9 1927.2 1302.9 1929.7 1303.0 1932.2 1303.1 1934.7 1303.1 1937.2 1303.2 1939.7 1303.2 1942.2 1303.3 1944.7 1303.4 1947.2 1303.4 1949.7 1303.5 1952.2 1303.5 1954.7 1303.6 1957.2 1303.6 1959.7 1303.7 1962.2 1303.7 1964.7 1303.8 1967.2 1303.8 1969.7 1303.9 1972.2 1303.9 1974.7 1304.0 1977.2 1304.0 1979.7 1304.1 1982.2 1304.1 1984.7 1304.2 1987.2 1304.2 1989.7 1304.3 1992.2 1304.3 1994.7 1304.4 1997.2 1304.4 1999.7 1304.5 2002.2 1304.5 2004.7 1304.6 2007.2 1304.6 2009.7 1304.7 2012.2 1304.7 2014.6 1304.8 2017.1 1304.8 2019.6 1304.9 2022.1 1305.0 2024.6 1305.0 2027.1 1305.1 2029.6 1305.1 2032.0 1305.2 2034.5 1305.3 2037.0 1305.3 2039.5 1305.4 2042.0 1305.5"/>
<path stroke="#008000" d="M174.0 1309.5L176.5 1309.5 179.0 1309.5 181.5 1309.5 184.0 1309.5 186.5 1309.4 189.0 1309.4 191.5 1309.4 194.0 1309.4 196.5 1309.4 199.0 1309.4 201.5 1309.4 204.0 1309.4 206.5 1309.4 209.0 1309.4 211.5 1309.4 213.9 1309.4 216.4 1309.4 218.9 1309.4 221.4 1309.4 223.9 1309.4 226.4 1309.4 228.9 1309.4 231.4 1309.4 233.9 1309.4 236.4 1309.4 238.9 1309.4 241.4 1309.4 243.9 1309.4 246.4 1309.4 248.9 1309.4 251.4 1309.4 253.9 1309.4 256.4 1309.4 258.9 1309.4 261.4 1309.5 263.9 1309.5 266.4 1309.5 268.9 1309.5 271.4 1309.5 273.9 1309.5 276.4 1309.5 278.9 1309.5 281.4 1309.5 283.9 1309.6 286.4 1309.6 288.9 1309.6 291.4 1309.6 293.9 1309.6 296.4 1309.6 298.9 1309.6 301.4 1309.7 303.9 1309.7 306.4 1309.7 308.9 1309.7 311.4 1309.7 313.9 1309.7 316.4 1309.8 318.9 1309.8 321.4 1309.8 323.9 1309.8 326.4 1309.8 328.9 1309.9 331.4 1309.9 333.9 1309.9 336.4 1309.9 338.9 1309.9 341.4 1310.0 343.9 1310.0 346.4 1310.0 348.8 1310.0 351.3 1310.1 353.8 1310.1 356.3 1310.1 358.8 1310.1 361.3 1310.2 363.8 1310.2 366.3 1310.2 368.8 1310.2 371.3 1310.2 373.8 1310.3 376.3 1310.3 378.8 1310.3 381.3 1310.4 383.8 1310.4 386.3 1310.4 388.8 1310.4 391.3 1310.5 393.8 1310.5 396.3 1310.5 398.8 1310.5 401.3 1310.6 403.8 1310.6 406.3 1310.6 408.8 1310.6 411.3 1310.7 413.8 1310.7 416.3 1310.7 418.8 1310.8 421.3 1310.8 423.8 1310.8 426.3 1310.8 428.8 1310.9 431.3 1310.9 433.8 1310.9 436.3 1311.0 438.8 1311.0 441.3 1311.0 443.8 1311.0 446.3 1311.1 448.8 1311.1 451.3 1311.1 453.8 1311.2 456.3 1311.2 458.8 1311.2 461.3 1311.3 463.8 1311.3 466.3 1311.3 468.8 1311.3 471.3 1311.4 473.8 1311.4 476.3 1311.4 478.8 1311.5 481.3 1311.5 483.8 1311.5 486.3 1311.5 488.8 1311.6 491.3 1311.6 493.8 1311.6 496.3 1311.7 498.8 1311.7 501.3 1311.7 503.8 1311.7 506.3 1311.8 508.8 1311.8 511.3 1311.8 513.8 1311.8 516.3 1311.9 518.8 1311.9 521.3 1311.9 523.8 1312.0 526.3 1312.0 528.8 1312.0 531.3 1312.0 533.8 1312.1 536.3 1312.1 538.8 1312.1 541.3 1312.1 543.8 1312.2 546.3 1312.2 548.8 1312.2 551.3 1312.2 553.8 1312.3 556.3 1312.3 558.8 1312.3 561.3 1312.3 563.8 1312.4 566.3 1312.4 568.8 1312.4 571.3 1312.4 573.8 1312.4 576.3 1312.5 578.8 1312.5 581.3 1312.5 583.8 1312.5 586.2 1312.6 588.7 1312.6 591.2 1312.6 593.7 1312.6 596.2 1312.6 598.7 1312.6 601.2 1312.7 603.7 1312.7 606.2 1312.7 608.7 1312.7 611.2 1312.7 613.7 1312.8 616.2 1312.8 618.7 1312.8 621.2 1312.8 623.7 1312.8 626.2 1312.8 628.7 1312.8 631.2 1312.9 633.7 1312.9 636.2 1312.9 638.7 1312.9 641.2 1312.9 643.7 1312.9 646.2 1312.9 648.7 1312.9 651.1 1312.9 653.6 1313.0 656.1 1313.0 658.6 1313.0 661.1 1313.0 663.6 1313.0 666.1 1313.0 668.6 1313.0 671.1 1313.0 673.6 1313.0 676.1 1313.0 678.6 1313.0 681.1 1313.1 683.6 1313.1 686.1 1313.1 688.6 1313.1 691.1 1313.1 693.6 1313.1 696.1 1313.1 698.6 1313.1 701.1 1313.1 703.5 1313.1 706.0 1313.1 708.5 1313.1 711.0 1313.1 713.5 1313.1 716.0 1313.1 718.5 1313.1 721.0 1313.1 723.5 1313.1 726.0 1313.1 728.5 1313.1 731.0 1313.1 733.5 1313.1 736.0 1313.1 738.5 1313.2 741.0 1313.2 743.5 1313.2 746.0 1313.2 748.5 1313.2 751.0 1313.2 753.4 1313.2 755.9 1313.2 758.4 1313.2 760.9 1313.2 763.4 1313.2 765.9 1313.2 768.4 1313.2 770.9 1313.2 773.4 1313.2 775.9 1313.2 778.4 1313.2 780.9 1313.2 783.4 1313.2 785.9 1313.2 788.4 1313.2 790.9 1313.2 793.4 1313.2 795.9 1313.2 798.4 1313.2 800.9 1313.2 803.4 1313.2 805.9 1313.2 808.4 1313.2 810.9 1313.2 813.4 1313.2 815.9 1313.2 818.4 1313.2 820.9 1313.2 823.3 1313.2 825.8 1313.2 828.3 1313.2 830.8 1313.2 833.3 1313.2 835.8 1313.2 838.3 1313.2 840.8 1313.2 843.3 1313.2 845.8 1313.2 848.3 1313.2 850.8 1313.2 853.3 1313.2 855.8 1313.2 858.3 1313.2 860.8 1313.2 863.3 1313.2 865.8 1313.2 868.3 1313.2 870.8 1313.2 873.3 1313.2 875.8 1313.2 878.3 1313.2 880.8 1313.2 883.3 1313.2 885.8 1313.2 888.3 1313.3 890.8 1313.3 893.3 1313.3 895.8 1313.3 898.3 1313.3 900.8 1313.3 903.3 1313.3 905.8 1313.3 908.3 1313.3 910.8 1313.3 913.3 1313.3 915.8 1313.3 918.4 1313.3 920.9 1313.3 923.4 1313.3 925.9 1313.3 928.4 1313.3 930.9 1313.4 933.4 1313.4 935.9 1313.4 938.4 1313.4 940.9 1313.4 943.4 1313.4 945.9 1313.4 948.4 1313.4 950.9 1313.4 953.4 1313.4 955.9 1313.5 958.4 1313.5 960.9 1313.5 963.4 1313.5 965.9 1313.5 968.5 1313.5 971.0 1313.5 973.5 1313.5 976.0 1313.6 978.5 1313.6 981.0 1313.6 983.5 1313.6 986.0 1313.6 988.5 1313.6 991.0 1313.7 993.5 1313.7 996.0 1313.7 998.6 1313.7 1001.1 1313.7 1003.6 1313.7 1006.1 1313.8 1008.6 1313.8 1011.1 1313.8 1013.6 1313.8 1016.1 1313.8 1018.6 1313.9 1021.2 1313.9 1023.7 1313.9 1026.2 1313.9 1028.7 1314.0 1031.2 1314.0 1033.7 1314.0 1036.2 1314.0 1038.8 1314.1 1041.3 1314.1 1043.8 1314.1 1046.3 1314.1 1048.8 1314.1 1051.3 1314.2 1053.8 1314.1 1056.3 1314.1 1058.8 1314.1 1061.3 1314.0 1063.8 1314.0 1066.3 1313.9 1068.7 1313.7 1071.2 1313.6 1073.6 1313.4 1076.1 1313.1 1078.5 1312.9 1080.9 1312.5 1083.3 1312.2 1085.7 1311.8 1088.0 1311.3 1090.4 1310.8 1092.7 1310.2 1095.0 1309.6 1097.3 1308.9 1099.5 1308.2 1101.8 1307.4 1104.0 1306.5 1106.2 1305.5 1108.3 1304.5 1110.5 1303.4 1112.5 1302.3 1114.6 1301.1 1116.6 1299.8 1118.6 1298.4 1120.5 1297.0 1122.4 1295.5 1124.2 1294.0 1126.0 1292.3 1127.7 1290.7 1129.3 1288.9 1130.9 1287.1 1132.4 1285.2 1133.9 1283.2 1135.3 1281.2 1136.6 1279.1 1137.8 1277.0 1139.0 1274.8 1140.1 1272.5 1141.2 1270.2 1142.2 1267.9 1143.2 1265.5 1144.2 1263.2 1145.2 1260.8 1146.1 1258.4 1147.0 1256.0 1147.9 1253.6 1148.8 1251.2 1149.7 1248.8 1150.5 1246.4 1151.4 1244.0 1152.2 1241.6 1153.1 1239.2 1153.9 1236.8 1154.7 1234.4 1155.5 1232.0 1156.3 1229.6 1157.1 1227.2 1157.8 1224.8 1158.6 1222.4 1159.3 1220.0 1160.1 1217.6 1160.8 1215.2 1161.5 1212.8 1162.2 1210.4 1162.9 1208.0 1163.6 1205.6 1164.3 1203.2 1165.0 1200.8 1165.7 1198.4 1166.3 1195.9 1167.0 1193.5 1167.6 1191.1 1168.3 1188.7 1168.9 1186.3 1169.5 1183.9 1170.1 1181.5 1170.7 1179.1 1171.3 1176.6 1171.9 1174.2 1172.5 1171.8 1173.1 1169.4 1173.7 1167.0 1174.3 1164.6 1174.8 1162.1 1175.4 1159.7 1176.0 1157.3 1176.5 1154.9 1177.1 1152.4 1177.6 1150.0 1178.1 1147.6 1178.7 1145.2 1179.2 1142.7 1179.7 1140.3 1180.3 1137.9 1180.8 1135.4 1181.3 1133.0 1181.8 1130.5 1182.3 1128.1 1182.8 1125.7 1183.3 1123.2 1183.8 1120.8 1184.3 1118.4 1184.8 1115.9 1185.2 1113.5 1185.7 1111.0 1186.2 1108.6 1186.7 1106.1 1187.1 1103.7 1187.6 1101.2 1188.0 1098.8 1188.5 1096.3 1189.0 1093.9 1189.4 1091.4 1189.8 1089.0 1190.3 1086.5 1190.7 1084.1 1191.2 1081.6 1191.6 1079.1 1192.0 1076.7 1192.4 1074.2 1192.9 1071.8 1193.3 1069.3 1193.7 1066.8 1194.1 1064.4 1194.5 1061.9 1194.9 1059.5 1195.3 1057.0 1195.7 1054.5 1196.1 1052.1 1196.5 1049.6 1196.9 1047.1 1197.3 1044.7 1197.7 1042.2 1198.1 1039.7 1198.5 1037.3 1198.8 1034.8 1199.2 1032.3 1199.6 1029.8 1200.0 1027.4 1200.3 1024.9 1200.7 1022.4 1201.1 1020.0 1201.4 1017.5 1201.8 1015.0 1202.1 1012.5 1202.5 1010.1 1202.9 1007.6 1203.2 1005.1 1203.6 1002.6 1203.9 1000.2 1204.3 997.7 1204.6 995.2 1204.9 992.7 1205.3 990.2 1205.6 987.8 1206.0 985.3 1206.3 982.8 1206.6 980.3 1207.0 977.8 1207.3 975.4 1207.6 972.9 1207.9 970.4 1208.3 967.9 1208.6 965.4 1208.9 963.0 1209.2 960.5 1209.6 958.0 1209.9 955.5 1210.2 953.0 1210.5 950.6 1210.8 948.1 1211.1 945.6 1211.5 943.1 1211.8 940.6 1212.1 938.2 1212.4 935.7 1212.7 933.2 1213.0 930.7 1213.3 928.2 1213.6 925.7 1213.9 923.3 1214.2 920.8 1214.6 918.3 1214.9 915.8 1215.2 913.3 1215.5 910.8 1215.8 908.4 1216.1 905.9 1216.4 903.4 1216.7 900.9 1217.0 898.4 1217.3 896.0 1217.6 893.5 1217.9 891.0 1218.2 888.5 1218.5 886.0 1218.8 883.5 1219.1 881.1 1219.3 878.6 1219.6 876.1 1219.9 873.6 1220.2 871.1 1220.5 868.7 1220.8 866.2 1221.1 863.7 1221.4 861.2 1221.7 858.7 1222.0 856.2 1222.3 853.8 1222.5 851.3 1222.8 848.8 1223.1 846.3 1223.4 843.8 1223.7 841.3 1224.0 838.9 1224.3 836.4 1224.5 833.9 1224.8 831.4 1225.1 828.9 1225.4 826.5 1225.7 824.0 1225.9 821.5 1226.2 819.0 1226.5 816.5 1226.8 814.0 1227.1 811.6 1227.3 809.1 1227.6 806.6 1227.9 804.1 1228.2 801.6 1228.5 799.1 1228.7 796.7 1229.0 794.2 1229.3 791.7 1229.6 789.2 1229.8 786.7 1230.1 784.2 1230.4 781.8 1230.6 779.3 1230.9 776.8 1231.2 774.3 1231.5 771.8 1231.7 769.4 1232.0 766.9 1232.3 764.4 1232.6 761.9 1232.8 759.4 1233.1 756.9 1233.4 754.5 1233.6 752.0 1233.9 749.5 1234.2 747.0 1234.4 744.5 1234.7 742.0 1235.0 739.6 1235.2 737.1 1235.5 734.6 1235.8 732.1 1236.0 729.6 1236.3 727.1 1236.6 724.7 1236.8 722.2 1237.1 719.7 1237.4 717.2 1237.6 714.7 1237.9 712.3 1238.2 709.8 1238.4 707.3 1238.7 704.8 1239.0 702.3 1239.2 699.8 1239.5 697.4 1239.8 694.9 1240.0 692.4 1240.3 689.9 1240.5 687.4 1240.8 684.9 1241.1 682.5 1241.3 680.0 1241.6 677.5 1241.9 675.0 1242.1 672.5 1242.4 670.0 1242.7 667.6 1242.9 665.1 1243.2 662.6 1243.4 660.1 1243.7 657.6 1244.0 655.1 1244.2 652.7 1244.5 650.2 1244.8 647.7 1245.0 645.2 1245.3 642.7 1245.5 640.2 1245.8 637.8 1246.1 635.3 1246.3 632.8 1246.6 630.3 1246.9 627.8 1247.1 625.3 1247.4 622.9 1247.6 620.4 1247.9 617.9 1248.2 615.4 1248.4 612.9 1248.7 610.4 1249.0 608.0 1249.2 605.5 1249.5 603.0 1249.8 600.5 1250.0 598.0 1250.3 595.5 1250.5 593.1 1250.8 590.6 1251.1 588.1 1251.3 585.6 1251.6 583.1 1251.9 580.6 1252.1 578.2 1252.4 575.7 1252.7 573.2 1252.9 570.7 1253.2 568.2 1253.5 565.7 1253.7 563.3 1254.0 560.8 1254.3 558.3 1254.5 555.8 1254.8 553.3 1255.1 550.8 1255.3 548.3 1255.6 545.9 1255.9 543.4 1256.1 540.9 1256.4 538.4 1256.7 535.9 1256.9 533.4 1257.2 531.0 1257.5 528.5 1257.7 526.0 1258.0 523.5 1258.3 521.0 1258.6 518.5 1258.8 516.1 1259.1 513.6 1259.4 511.1 1259.6 508.6 1259.9 506.1 1260.2 503.6 1260.5 501.2 1260.7 498.7 1261.0 496.2 1261.3 493.7 1261.6 491.2 1261.8 488.7 1262.1 486.2 1262.4 483.8 1262.7 481.3 1262.9 478.8 1263.2 476.3 1263.5 473.8 1263.8 471.3 1264.1 468.9 1264.3 466.4 1264.6 463.9 1264.9 461.4 1265.2 458.9 1265.5 456.4 1265.8 453.9 1266.0 451.5 1266.3 449.0 1266.6 446.5 1266.9 444.0 1267.2 441.5 1267.5 439.0 1267.8 436.6 1268.1 434.1 1268.4 431.6 1268.7 429.1 1269.0 426.6 1269.3 424.2 1269.6 421.7 1269.9 419.2 1270.2 416.7 1270.5 414.2 1270.8 411.7 1271.1 409.3 1271.4 406.8 1271.7 404.3 1272.0 401.8 1272.3 399.3 1272.6 396.9 1272.9 394.4 1273.3 391.9 1273.6 389.4 1273.9 386.9 1274.2 384.5 1274.6 382.0 1274.9 379.5 1275.2 377.0 1275.5 374.6 1275.9 372.1 1276.2 369.6 1276.5 367.1 1276.9 364.7 1277.2 362.2 1277.6 359.7 1277.9 357.2 1278.3 354.8 1278.6 352.3 1279.0 349.8 1279.3 347.3 1279.7 344.9 1280.0 342.4 1280.4 339.9 1280.8 337.4 1281.1 335.0 1281.5 332.5 1281.9 330.0 1282.2 327.6 1282.6 325.1 1283.0 322.6 1283.4 320.2 1283.8 317.7 1284.2 315.2 1284.5 312.8 1284.9 310.3 1285.3 307.8 1285.7 305.4 1286.1 302.9 1286.5 300.4 1287.0 298.0 1287.4 295.5 1287.8 293.1 1288.2 290.6 1288.6 288.1 1289.0 285.7 1289.5 283.2 1289.9 280.8 1290.3 278.3 1290.8 275.9 1291.2 273.4 1291.6 270.9 1292.1 268.5 1292.5 266.0 1293.0 263.6 1293.5 261.1 1293.9 258.7 1294.4 256.2 1294.9 253.8 1295.4 251.3 1295.9 248.9 1296.4 246.5 1297.0 244.0 1297.5 241.6 1298.1 239.2 1298.7 236.8 1299.4 234.4 1300.0 232.0 1300.7 229.6 1301.4 227.2 1302.2 224.8 1303.0 222.4 1303.8 220.1 1304.7 217.7 1305.6 215.4 1306.6 213.1 1307.6 210.8 1308.6 208.5 1309.7 206.2 1310.9 203.9 1312.1 201.6 1313.4 199.4 1314.7 197.1 1316.0 194.9 1317.5 192.8 1319.0 190.7 1320.6 188.9 1322.4 187.4 1324.2 186.4 1326.3 185.9 1328.4 186.0 1330.7 186.6 1333.0 187.7 1335.1 189.0 1337.0 190.5 1338.8 192.1 1340.4 193.9 1341.9 195.8 1343.2 197.8 1344.5 200.0 1345.6 202.2 1346.6 204.5 1347.6 206.8 1348.5 209.2 1349.4 211.6 1350.3 214.0 1351.1 216.4 1351.9 218.8 1352.7 221.2 1353.5 223.6 1354.2 226.1 1355.0 228.5 1355.7 230.9 1356.4 233.3 1357.1 235.8 1357.8 238.2 1358.4 240.6 1359.1 243.0 1359.7 245.5 1360.3 247.9 1360.9 250.3 1361.5 252.8 1362.1 255.2 1362.6 257.7 1363.2 260.1 1363.7 262.6 1364.2 265.0 1364.7 267.4 1365.2 269.9 1365.7 272.3 1366.2 274.8 1366.6 277.2 1367.1 279.7 1367.5 282.2 1368.0 284.6 1368.4 287.1 1368.8 289.5 1369.2 292.0 1369.6 294.4 1370.0 296.9 1370.4 299.4 1370.8 301.8 1371.2 304.3 1371.6 306.7 1371.9 309.2 1372.3 311.7 1372.6 314.1 1373.0 316.6 1373.3 319.1 1373.7 321.5 1374.0 324.0 1374.4 326.5 1374.7 329.0 1375.0 331.4 1375.4 333.9 1375.7 336.4 1376.0 338.8 1376.3 341.3 1376.7 343.8 1377.0 346.2 1377.3 348.7 1377.6 351.2 1378.0 353.7 1378.3 356.1 1378.6 358.6 1378.9 361.1 1379.2 363.6 1379.6 366.0 1379.9 368.5 1380.2 371.0 1380.5 373.4 1380.8 375.9 1381.1 378.4 1381.4 380.9 1381.7 383.4 1382.0 385.8 1382.3 388.3 1382.6 390.8 1382.9 393.3 1383.2 395.7 1383.5 398.2 1383.8 400.7 1384.1 403.2 1384.4 405.6 1384.7 408.1 1385.0 410.6 1385.3 413.1 1385.6 415.6 1385.9 418.0 1386.2 420.5 1386.5 423.0 1386.8 425.5 1387.1 428.0 1387.3 430.4 1387.6 432.9 1387.9 435.4 1388.2 437.9 1388.5 440.4 1388.8 442.8 1389.0 445.3 1389.3 447.8 1389.6 450.3 1389.9 452.8 1390.2 455.3 1390.4 457.7 1390.7 460.2 1391.0 462.7 1391.3 465.2 1391.5 467.7 1391.8 470.2 1392.1 472.6 1392.4 475.1 1392.6 477.6 1392.9 480.1 1393.2 482.6 1393.4 485.1 1393.7 487.5 1394.0 490.0 1394.2 492.5 1394.5 495.0 1394.8 497.5 1395.0 500.0 1395.3 502.5 1395.6 504.9 1395.8 507.4 1396.1 509.9 1396.4 512.4 1396.6 514.9 1396.9 517.4 1397.1 519.9 1397.4 522.3 1397.7 524.8 1397.9 527.3 1398.2 529.8 1398.4 532.3 1398.7 534.8 1399.0 537.3 1399.2 539.8 1399.5 542.2 1399.7 544.7 1400.0 547.2 1400.2 549.7 1400.5 552.2 1400.8 554.7 1401.0 557.2 1401.3 559.7 1401.5 562.1 1401.8 564.6 1402.0 567.1 1402.3 569.6 1402.5 572.1 1402.8 574.6 1403.0 577.1 1403.3 579.6 1403.5 582.0 1403.8 584.5 1404.0 587.0 1404.3 589.5 1404.5 592.0 1404.8 594.5 1405.0 597.0 1405.3 599.5 1405.5 602.0 1405.8 604.4 1406.0 606.9 1406.3 609.4 1406.5 611.9 1406.8 614.4 1407.0 616.9 1407.3 619.4 1407.5 621.9 1407.8 624.3 1408.0 626.8 1408.3 629.3 1408.5 631.8 1408.8 634.3 1409.0 636.8 1409.3 639.3 1409.5 641.8 1409.8 644.3 1410.0 646.7 1410.3 649.2 1410.5 651.7 1410.8 654.2 1411.0 656.7 1411.3 659.2 1411.5 661.7 1411.8 664.2 1412.0 666.6 1412.3 669.1 1412.5 671.6 1412.8 674.1 1413.1 676.6 1413.3 679.1 1413.6 681.6 1413.8 684.0 1414.1 686.5 1414.3 689.0 1414.6 691.5 1414.8 694.0 1415.1 696.5 1415.3 699.0 1415.6 701.5 1415.8 703.9 1416.1 706.4 1416.3 708.9 1416.6 711.4 1416.9 713.9 1417.1 716.4 1417.4 718.8 1417.6 721.3 1417.9 723.8 1418.1 726.3 1418.4 728.8 1418.7 731.3 1418.9 733.8 1419.2 736.2 1419.4 738.7 1419.7 741.2 1420.0 743.7 1420.2 746.2 1420.5 748.7 1420.8 751.1 1421.0 753.6 1421.3 756.1 1421.6 758.6 1421.8 761.1 1422.1 763.6 1422.4 766.0 1422.6 768.5 1422.9 771.0 1423.2 773.5 1423.4 776.0 1423.7 778.4 1424.0 780.9 1424.2 783.4 1424.5 785.9 1424.8 788.4 1425.1 790.8 1425.3 793.3 1425.6 795.8 1425.9 798.3 1426.2 800.8 1426.4 803.2 1426.7 805.7 1427.0 808.2 1427.3 810.7 1427.6 813.1 1427.9 815.6 1428.1 818.1 1428.4 820.6 1428.7 823.1 1429.0 825.5 1429.3 828.0 1429.6 830.5 1429.9 833.0 1430.2 835.4 1430.5 837.9 1430.8 840.4 1431.1 842.9 1431.4 845.3 1431.7 847.8 1432.0 850.3 1432.3 852.8 1432.6 855.2 1432.9 857.7 1433.2 860.2 1433.5 862.7 1433.8 865.1 1434.1 867.6 1434.5 870.1 1434.8 872.6 1435.1 875.0 1435.4 877.5 1435.8 880.0 1436.1 882.5 1436.4 884.9 1436.7 887.4 1437.1 889.9 1437.4 892.4 1437.7 894.8 1438.1 897.3 1438.4 899.8 1438.8 902.2 1439.1 904.7 1439.5 907.2 1439.8 909.7 1440.2 912.1 1440.5 914.6 1440.9 917.1 1441.2 919.5 1441.6 922.0 1442.0 924.5 1442.3 927.0 1442.7 929.4 1443.1 931.9 1443.4 934.4 1443.8 936.8 1444.2 939.3 1444.6 941.8 1445.0 944.3 1445.4 946.7 1445.7 949.2 1446.1 951.7 1446.5 954.1 1446.9 956.6 1447.3 959.1 1447.7 961.5 1448.2 964.0 1448.6 966.5 1449.0 969.0 1449.4 971.4 1449.8 973.9 1450.2 976.4 1450.7 978.8 1451.1 981.3 1451.5 983.8 1452.0 986.2 1452.4 988.7 1452.8 991.2 1453.3 993.6 1453.7 996.1 1454.2 998.6 1454.6 1001.0 1455.1 1003.5 1455.6 1006.0 1456.0 1008.5 1456.5 1010.9 1457.0 1013.4 1457.5 1015.9 1457.9 1018.3 1458.4 1020.8 1458.9 1023.3 1459.4 1025.7 1459.9 1028.2 1460.4 1030.6 1461.0 1033.1 1461.5 1035.6 1462.0 1038.0 1462.6 1040.5 1463.1 1042.9 1463.7 1045.3 1464.3 1047.8 1464.9 1050.2 1465.5 1052.6 1466.1 1055.1 1466.7 1057.5 1467.3 1059.9 1468.0 1062.3 1468.6 1064.7 1469.3 1067.1 1470.0 1069.5 1470.7 1071.9 1471.4 1074.3 1472.2 1076.7 1472.9 1079.0 1473.7 1081.4 1474.5 1083.8 1475.3 1086.1 1476.1 1088.4 1476.9 1090.8 1477.8 1093.1 1478.7 1095.4 1479.6 1097.7 1480.5 1100.0 1481.4 1102.3 1482.4 1104.6 1483.4 1106.9 1484.4 1109.1 1485.4 1111.4 1486.5 1113.6 1487.5 1115.8 1488.6 1118.1 1489.7 1120.3 1490.9 1122.5 1492.1 1124.7 1493.3 1126.8 1494.5 1129.0 1495.7 1131.1 1497.0 1133.3 1498.3 1135.4 1499.6 1137.5 1500.9 1139.6 1502.3 1141.7 1503.7 1143.7 1505.1 1145.8 1506.5 1147.8 1508.0 1149.8 1509.4 1151.8 1510.9 1153.8 1512.4 1155.8 1514.0 1157.7 1515.6 1159.7 1517.1 1161.6 1518.8 1163.5 1520.4 1165.3 1522.0 1167.2 1523.7 1169.0 1525.4 1170.8 1527.1 1172.6 1528.9 1174.4 1530.6 1176.2 1532.4 1177.9 1534.2 1179.6 1536.1 1181.3 1537.9 1183.0 1539.8 1184.6 1541.7 1186.2 1543.6 1187.8 1545.5 1189.4 1547.4 1191.0 1549.4 1192.5 1551.4 1194.0 1553.4 1195.5 1555.4 1196.9 1557.5 1198.4 1559.5 1199.8 1561.6 1201.2 1563.7 1202.6 1565.8 1204.0 1567.9 1205.3 1570.0 1206.6 1572.1 1207.9 1574.3 1209.2 1576.5 1210.5 1578.6 1211.8 1580.8 1213.0 1583.0 1214.2 1585.2 1215.5 1587.4 1216.7 1589.6 1217.8 1591.9 1219.0 1594.1 1220.2 1596.3 1221.3 1598.6 1222.5 1600.8 1223.6 1603.1 1224.7 1605.4 1225.8 1607.6 1226.9 1609.9 1228.0 1612.2 1229.1 1614.4 1230.1 1616.7 1231.2 1619.0 1232.3 1621.3 1233.3 1623.6 1234.3 1625.8 1235.3 1628.1 1236.3 1630.4 1237.3 1632.7 1238.3 1635.0 1239.3 1637.4 1240.3 1639.7 1241.2 1642.0 1242.2 1644.3 1243.1 1646.6 1244.1 1648.9 1245.0 1651.3 1245.9 1653.6 1246.8 1655.9 1247.7 1658.3 1248.6 1660.6 1249.5 1662.9 1250.3 1665.3 1251.2 1667.6 1252.1 1670.0 1252.9 1672.3 1253.7 1674.7 1254.5 1677.0 1255.4 1679.4 1256.2 1681.8 1257.0 1684.1 1257.7 1686.5 1258.5 1688.9 1259.3 1691.2 1260.1 1693.6 1260.8 1696.0 1261.6 1698.4 1262.3 1700.8 1263.0 1703.1 1263.7 1705.5 1264.4 1707.9 1265.1 1710.3 1265.8 1712.7 1266.5 1715.1 1267.2 1717.5 1267.8 1719.9 1268.5 1722.3 1269.2 1724.7 1269.8 1727.1 1270.4 1729.6 1271.0 1732.0 1271.7 1734.4 1272.3 1736.8 1272.9 1739.2 1273.5 1741.6 1274.0 1744.1 1274.6 1746.5 1275.2 1748.9 1275.7 1751.4 1276.3 1753.8 1276.8 1756.2 1277.4 1758.7 1277.9 1761.1 1278.4 1763.5 1278.9 1766.0 1279.4 1768.4 1279.9 1770.9 1280.4 1773.3 1280.9 1775.8 1281.3 1778.2 1281.8 1780.7 1282.3 1783.1 1282.7 1785.6 1283.1 1788.0 1283.6 1790.5 1284.0 1792.9 1284.4 1795.4 1284.8 1797.9 1285.2 1800.3 1285.6 1802.8 1286.0 1805.3 1286.4 1807.7 1286.8 1810.2 1287.1 1812.7 1287.5 1815.1 1287.8 1817.6 1288.2 1820.1 1288.5 1822.5 1288.8 1825.0 1289.2 1827.5 1289.5 1830.0 1289.8 1832.5 1290.1 1834.9 1290.4 1837.4 1290.7 1839.9 1290.9 1842.4 1291.2 1844.9 1291.5 1847.4 1291.8 1849.8 1292.0 1852.3 1292.3 1854.8 1292.5 1857.3 1292.7 1859.8 1293.0 1862.3 1293.2 1864.8 1293.4 1867.3 1293.7 1869.8 1293.9 1872.3 1294.1 1874.7 1294.3 1877.2 1294.5 1879.7 1294.7 1882.2 1294.9 1884.7 1295.1 1887.2 1295.2 1889.7 1295.4 1892.2 1295.6 1894.7 1295.8 1897.2 1295.9 1899.7 1296.1 1902.2 1296.2 1904.7 1296.4 1907.2 1296.6 1909.7 1296.7 1912.2 1296.8 1914.7 1297.0 1917.2 1297.1 1919.7 1297.3 1922.2 1297.4 1924.7 1297.5 1927.2 1297.7 1929.7 1297.8 1932.2 1297.9 1934.7 1298.0 1937.2 1298.2 1939.7 1298.3 1942.2 1298.4 1944.7 1298.5 1947.2 1298.6 1949.7 1298.7 1952.2 1298.9 1954.7 1299.0 1957.2 1299.1 1959.7 1299.2 1962.2 1299.3 1964.7 1299.4 1967.2 1299.5 1969.7 1299.6 1972.2 1299.7 1974.7 1299.8 1977.2 1299.9 1979.7 1300.1 1982.2 1300.2 1984.7 1300.3 1987.2 1300.4 1989.7 1300.5 1992.2 1300.6 1994.7 1300.7 1997.2 1300.8 1999.7 1300.9 2002.2 1301.0 2004.7 1301.1 2007.2 1301.3 2009.7 1301.4 2012.2 1301.5 2014.7 1301.6 2017.1 1301.7 2019.6 1301.9 2022.1 1302.0 2024.6 1302.1 2027.1 1302.2 2029.6 1302.4 2032.1 1302.5 2034.5 1302.6 2037.0 1302.8 2039.5 1302.9 2042.0 1303.1"/>
</g>
<g stroke-width="9.8" stroke-linecap="round">
<line x1="301.5" y1="134.4" x2="464.5" y2="134.4" stroke="#000000"/>
<line x1="301.5" y1="223.8" x2="464.5" y2="223.8" stroke="#ff0000"/>
<line x1="301.5" y1="312" x2="464.5" y2="312" stroke="#0000ff"/>
<line x1="301.5" y1="402.1" x2="464.5" y2="402.1" stroke="#ff00ff"/>
<line x1="301.5" y1="492.1" x2="464.5" y2="492.1" stroke="#008000"/>
</g>
<g font-family='"Liberation Sans", Arial, sans-serif' font-size="59" fill="#000">
<text x="499" y="158" textLength="259.6" lengthAdjust="spacing">Untreated</text>
<text x="499" y="246.8" textLength="377.6" lengthAdjust="spacing">Formaldehyde</text>
<text x="499" y="335" textLength="360.5" lengthAdjust="spacing">Acetaldehyde</text>
<text x="497.8" y="424" textLength="448.3" lengthAdjust="spacing">Propionaldehyde</text>
<text x="499" y="512.2" textLength="163.1" lengthAdjust="spacing">Glycol</text>
</g>
</svg>
</body></html>
